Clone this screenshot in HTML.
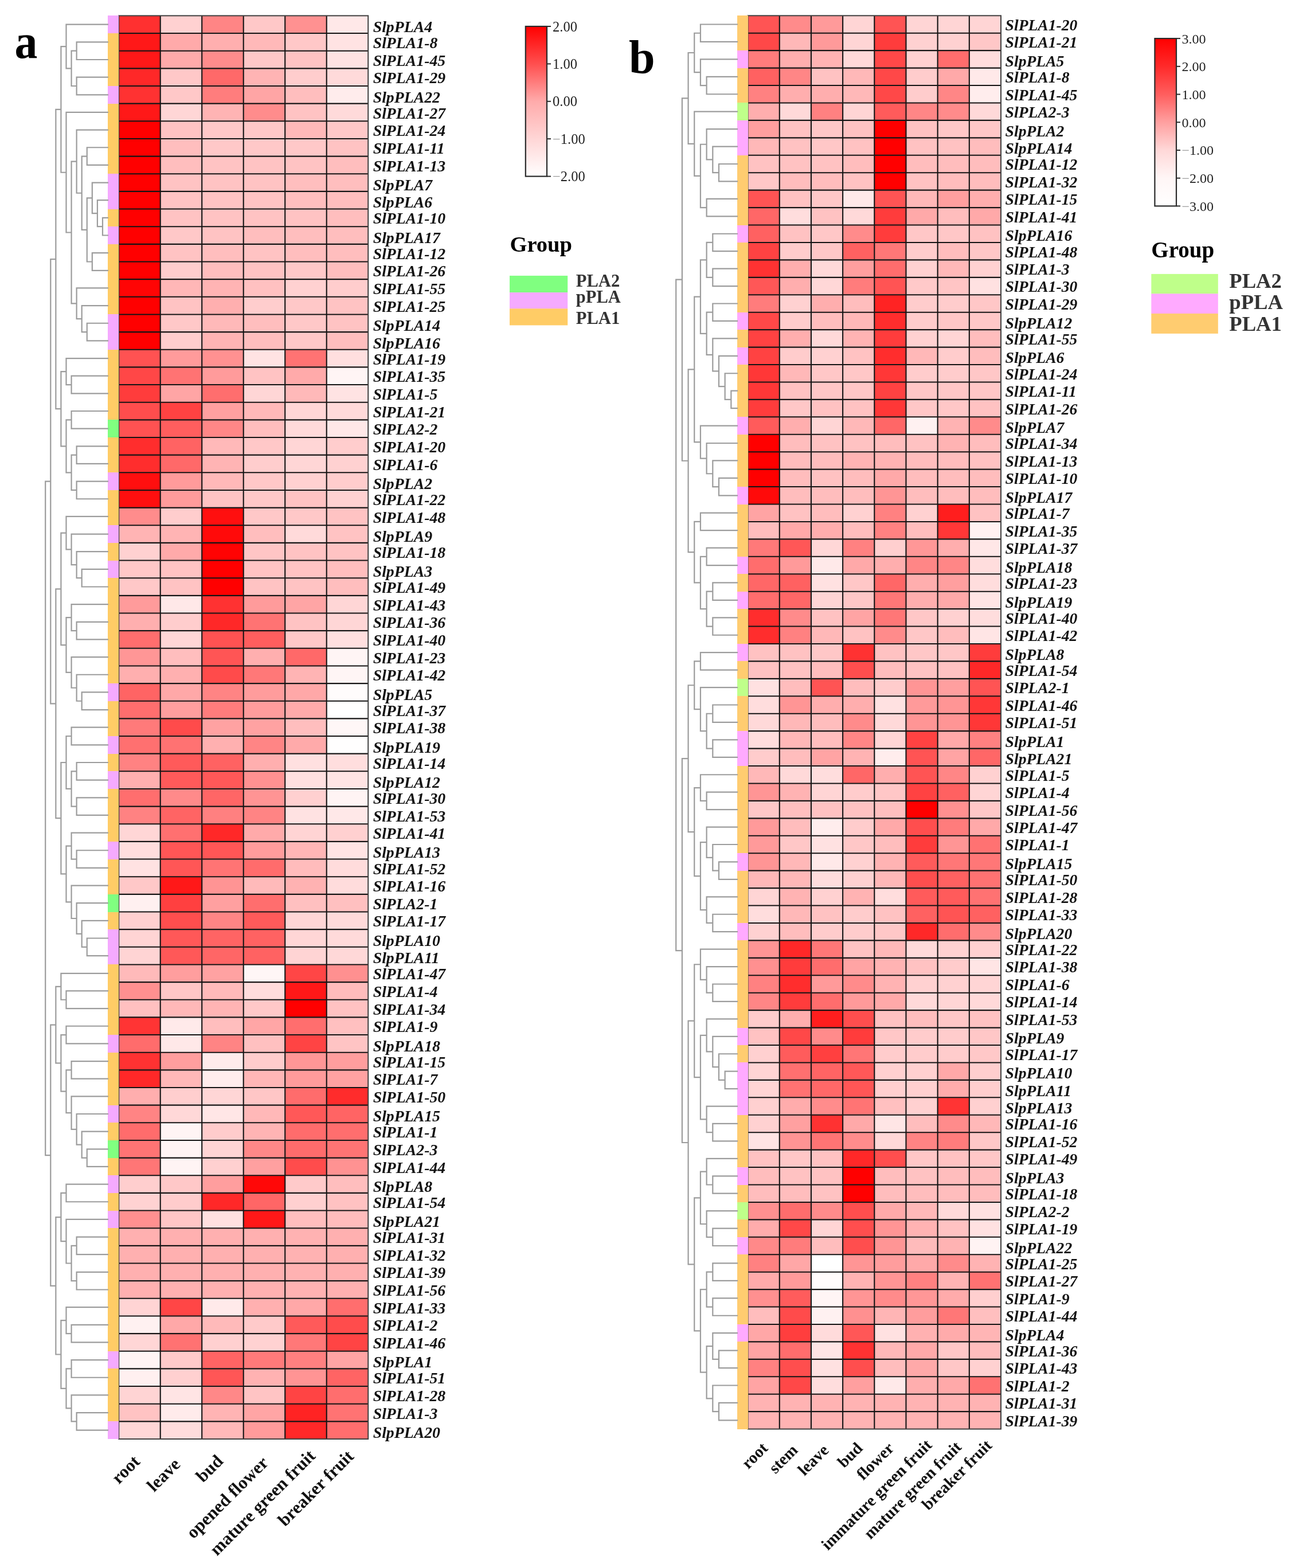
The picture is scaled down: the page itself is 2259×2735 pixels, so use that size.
<!DOCTYPE html>
<html><head><meta charset="utf-8"><title>Heatmap</title>
<style>html,body{margin:0;padding:0;background:#fff;}body{width:2259px;height:2735px;overflow:hidden;}svg{display:block;}</style>
</head><body>
<svg width="2259" height="2735" viewBox="0 0 2259 2735">
<rect width="2259" height="2735" fill="#fff"/>
<defs>
<linearGradient id="ga" x1="0" y1="0" x2="0" y2="1">
<stop offset="0" stop-color="#FF0000"/><stop offset="0.25" stop-color="#FF4F4F"/><stop offset="0.5" stop-color="#FFABAB"/><stop offset="0.75" stop-color="#FFD6D6"/><stop offset="1" stop-color="#FFFFFF"/>
</linearGradient>
<linearGradient id="gb" x1="0" y1="0" x2="0" y2="1">
<stop offset="0" stop-color="#FF0000"/><stop offset="0.1667" stop-color="#FF2A2A"/><stop offset="0.3333" stop-color="#FF5E5E"/><stop offset="0.5" stop-color="#FFA0A0"/><stop offset="0.6667" stop-color="#FFD8D8"/><stop offset="0.8333" stop-color="#FFF6F6"/><stop offset="1" stop-color="#FFFFFF"/>
</linearGradient>
</defs>
<g shape-rendering="crispEdges">
<rect x="207.20" y="27.40" width="72.80" height="30.95" fill="#FF3030"/>
<rect x="279.70" y="27.40" width="72.80" height="30.95" fill="#FFD1D1"/>
<rect x="352.20" y="27.40" width="72.80" height="30.95" fill="#FF8585"/>
<rect x="424.70" y="27.40" width="72.80" height="30.95" fill="#FFC8C8"/>
<rect x="497.20" y="27.40" width="72.80" height="30.95" fill="#FF9191"/>
<rect x="569.70" y="27.40" width="72.80" height="30.95" fill="#FFE8E8"/>
<rect x="207.20" y="58.05" width="72.80" height="30.95" fill="#FF1818"/>
<rect x="279.70" y="58.05" width="72.80" height="30.95" fill="#FFAAAA"/>
<rect x="352.20" y="58.05" width="72.80" height="30.95" fill="#FFAFAF"/>
<rect x="424.70" y="58.05" width="72.80" height="30.95" fill="#FFB9B9"/>
<rect x="497.20" y="58.05" width="72.80" height="30.95" fill="#FFC8C8"/>
<rect x="569.70" y="58.05" width="72.80" height="30.95" fill="#FFE3E3"/>
<rect x="207.20" y="88.70" width="72.80" height="30.95" fill="#FF1818"/>
<rect x="279.70" y="88.70" width="72.80" height="30.95" fill="#FFAAAA"/>
<rect x="352.20" y="88.70" width="72.80" height="30.95" fill="#FF8C8C"/>
<rect x="424.70" y="88.70" width="72.80" height="30.95" fill="#FFC8C8"/>
<rect x="497.20" y="88.70" width="72.80" height="30.95" fill="#FFC3C3"/>
<rect x="569.70" y="88.70" width="72.80" height="30.95" fill="#FFE3E3"/>
<rect x="207.20" y="119.35" width="72.80" height="30.95" fill="#FF2828"/>
<rect x="279.70" y="119.35" width="72.80" height="30.95" fill="#FFC8C8"/>
<rect x="352.20" y="119.35" width="72.80" height="30.95" fill="#FF6969"/>
<rect x="424.70" y="119.35" width="72.80" height="30.95" fill="#FFB4B4"/>
<rect x="497.20" y="119.35" width="72.80" height="30.95" fill="#FFCDCD"/>
<rect x="569.70" y="119.35" width="72.80" height="30.95" fill="#FFDADA"/>
<rect x="207.20" y="150.00" width="72.80" height="30.95" fill="#FF3232"/>
<rect x="279.70" y="150.00" width="72.80" height="30.95" fill="#FFC8C8"/>
<rect x="352.20" y="150.00" width="72.80" height="30.95" fill="#FF7D7D"/>
<rect x="424.70" y="150.00" width="72.80" height="30.95" fill="#FFA5A5"/>
<rect x="497.20" y="150.00" width="72.80" height="30.95" fill="#FFBEBE"/>
<rect x="569.70" y="150.00" width="72.80" height="30.95" fill="#FFECEC"/>
<rect x="207.20" y="180.65" width="72.80" height="30.95" fill="#FF1818"/>
<rect x="279.70" y="180.65" width="72.80" height="30.95" fill="#FFD6D6"/>
<rect x="352.20" y="180.65" width="72.80" height="30.95" fill="#FFB4B4"/>
<rect x="424.70" y="180.65" width="72.80" height="30.95" fill="#FF8C8C"/>
<rect x="497.20" y="180.65" width="72.80" height="30.95" fill="#FFC3C3"/>
<rect x="569.70" y="180.65" width="72.80" height="30.95" fill="#FFDADA"/>
<rect x="207.20" y="211.30" width="72.80" height="30.95" fill="#FF0000"/>
<rect x="279.70" y="211.30" width="72.80" height="30.95" fill="#FFC3C3"/>
<rect x="352.20" y="211.30" width="72.80" height="30.95" fill="#FFC8C8"/>
<rect x="424.70" y="211.30" width="72.80" height="30.95" fill="#FFC8C8"/>
<rect x="497.20" y="211.30" width="72.80" height="30.95" fill="#FFB9B9"/>
<rect x="569.70" y="211.30" width="72.80" height="30.95" fill="#FFC8C8"/>
<rect x="207.20" y="241.95" width="72.80" height="30.95" fill="#FF0000"/>
<rect x="279.70" y="241.95" width="72.80" height="30.95" fill="#FFBEBE"/>
<rect x="352.20" y="241.95" width="72.80" height="30.95" fill="#FFC8C8"/>
<rect x="424.70" y="241.95" width="72.80" height="30.95" fill="#FFC8C8"/>
<rect x="497.20" y="241.95" width="72.80" height="30.95" fill="#FFC8C8"/>
<rect x="569.70" y="241.95" width="72.80" height="30.95" fill="#FFC3C3"/>
<rect x="207.20" y="272.60" width="72.80" height="30.95" fill="#FF0000"/>
<rect x="279.70" y="272.60" width="72.80" height="30.95" fill="#FFBEBE"/>
<rect x="352.20" y="272.60" width="72.80" height="30.95" fill="#FFC3C3"/>
<rect x="424.70" y="272.60" width="72.80" height="30.95" fill="#FFC3C3"/>
<rect x="497.20" y="272.60" width="72.80" height="30.95" fill="#FFC3C3"/>
<rect x="569.70" y="272.60" width="72.80" height="30.95" fill="#FFBEBE"/>
<rect x="207.20" y="303.24" width="72.80" height="30.95" fill="#FF0000"/>
<rect x="279.70" y="303.24" width="72.80" height="30.95" fill="#FFC3C3"/>
<rect x="352.20" y="303.24" width="72.80" height="30.95" fill="#FFC3C3"/>
<rect x="424.70" y="303.24" width="72.80" height="30.95" fill="#FFC3C3"/>
<rect x="497.20" y="303.24" width="72.80" height="30.95" fill="#FFBEBE"/>
<rect x="569.70" y="303.24" width="72.80" height="30.95" fill="#FFBEBE"/>
<rect x="207.20" y="333.89" width="72.80" height="30.95" fill="#FF0000"/>
<rect x="279.70" y="333.89" width="72.80" height="30.95" fill="#FFC3C3"/>
<rect x="352.20" y="333.89" width="72.80" height="30.95" fill="#FFC3C3"/>
<rect x="424.70" y="333.89" width="72.80" height="30.95" fill="#FFC3C3"/>
<rect x="497.20" y="333.89" width="72.80" height="30.95" fill="#FFBEBE"/>
<rect x="569.70" y="333.89" width="72.80" height="30.95" fill="#FFBEBE"/>
<rect x="207.20" y="364.54" width="72.80" height="30.95" fill="#FF0000"/>
<rect x="279.70" y="364.54" width="72.80" height="30.95" fill="#FFC3C3"/>
<rect x="352.20" y="364.54" width="72.80" height="30.95" fill="#FFC3C3"/>
<rect x="424.70" y="364.54" width="72.80" height="30.95" fill="#FFC3C3"/>
<rect x="497.20" y="364.54" width="72.80" height="30.95" fill="#FFC3C3"/>
<rect x="569.70" y="364.54" width="72.80" height="30.95" fill="#FFBEBE"/>
<rect x="207.20" y="395.19" width="72.80" height="30.95" fill="#FF0000"/>
<rect x="279.70" y="395.19" width="72.80" height="30.95" fill="#FFC8C8"/>
<rect x="352.20" y="395.19" width="72.80" height="30.95" fill="#FFC3C3"/>
<rect x="424.70" y="395.19" width="72.80" height="30.95" fill="#FFBEBE"/>
<rect x="497.20" y="395.19" width="72.80" height="30.95" fill="#FFBEBE"/>
<rect x="569.70" y="395.19" width="72.80" height="30.95" fill="#FFBEBE"/>
<rect x="207.20" y="425.84" width="72.80" height="30.95" fill="#FF0000"/>
<rect x="279.70" y="425.84" width="72.80" height="30.95" fill="#FFC3C3"/>
<rect x="352.20" y="425.84" width="72.80" height="30.95" fill="#FFBEBE"/>
<rect x="424.70" y="425.84" width="72.80" height="30.95" fill="#FFC3C3"/>
<rect x="497.20" y="425.84" width="72.80" height="30.95" fill="#FFBEBE"/>
<rect x="569.70" y="425.84" width="72.80" height="30.95" fill="#FFBEBE"/>
<rect x="207.20" y="456.49" width="72.80" height="30.95" fill="#FF0000"/>
<rect x="279.70" y="456.49" width="72.80" height="30.95" fill="#FFCDCD"/>
<rect x="352.20" y="456.49" width="72.80" height="30.95" fill="#FFBEBE"/>
<rect x="424.70" y="456.49" width="72.80" height="30.95" fill="#FFC3C3"/>
<rect x="497.20" y="456.49" width="72.80" height="30.95" fill="#FFC8C8"/>
<rect x="569.70" y="456.49" width="72.80" height="30.95" fill="#FFBEBE"/>
<rect x="207.20" y="487.14" width="72.80" height="30.95" fill="#FF0505"/>
<rect x="279.70" y="487.14" width="72.80" height="30.95" fill="#FFB7B7"/>
<rect x="352.20" y="487.14" width="72.80" height="30.95" fill="#FFB4B4"/>
<rect x="424.70" y="487.14" width="72.80" height="30.95" fill="#FFC1C1"/>
<rect x="497.20" y="487.14" width="72.80" height="30.95" fill="#FFD1D1"/>
<rect x="569.70" y="487.14" width="72.80" height="30.95" fill="#FFCDCD"/>
<rect x="207.20" y="517.79" width="72.80" height="30.95" fill="#FF0000"/>
<rect x="279.70" y="517.79" width="72.80" height="30.95" fill="#FFC3C3"/>
<rect x="352.20" y="517.79" width="72.80" height="30.95" fill="#FFAFAF"/>
<rect x="424.70" y="517.79" width="72.80" height="30.95" fill="#FFCDCD"/>
<rect x="497.20" y="517.79" width="72.80" height="30.95" fill="#FFC8C8"/>
<rect x="569.70" y="517.79" width="72.80" height="30.95" fill="#FFC3C3"/>
<rect x="207.20" y="548.44" width="72.80" height="30.95" fill="#FF0000"/>
<rect x="279.70" y="548.44" width="72.80" height="30.95" fill="#FFC8C8"/>
<rect x="352.20" y="548.44" width="72.80" height="30.95" fill="#FFB9B9"/>
<rect x="424.70" y="548.44" width="72.80" height="30.95" fill="#FFBEBE"/>
<rect x="497.20" y="548.44" width="72.80" height="30.95" fill="#FFC8C8"/>
<rect x="569.70" y="548.44" width="72.80" height="30.95" fill="#FFC3C3"/>
<rect x="207.20" y="579.09" width="72.80" height="30.95" fill="#FF0000"/>
<rect x="279.70" y="579.09" width="72.80" height="30.95" fill="#FFCDCD"/>
<rect x="352.20" y="579.09" width="72.80" height="30.95" fill="#FFB4B4"/>
<rect x="424.70" y="579.09" width="72.80" height="30.95" fill="#FFBEBE"/>
<rect x="497.20" y="579.09" width="72.80" height="30.95" fill="#FFC8C8"/>
<rect x="569.70" y="579.09" width="72.80" height="30.95" fill="#FFBEBE"/>
<rect x="207.20" y="609.74" width="72.80" height="30.95" fill="#FF5252"/>
<rect x="279.70" y="609.74" width="72.80" height="30.95" fill="#FF9B9B"/>
<rect x="352.20" y="609.74" width="72.80" height="30.95" fill="#FF9191"/>
<rect x="424.70" y="609.74" width="72.80" height="30.95" fill="#FFE3E3"/>
<rect x="497.20" y="609.74" width="72.80" height="30.95" fill="#FF7373"/>
<rect x="569.70" y="609.74" width="72.80" height="30.95" fill="#FFDFDF"/>
<rect x="207.20" y="640.39" width="72.80" height="30.95" fill="#FF4747"/>
<rect x="279.70" y="640.39" width="72.80" height="30.95" fill="#FF7373"/>
<rect x="352.20" y="640.39" width="72.80" height="30.95" fill="#FF9B9B"/>
<rect x="424.70" y="640.39" width="72.80" height="30.95" fill="#FFC3C3"/>
<rect x="497.20" y="640.39" width="72.80" height="30.95" fill="#FFAAAA"/>
<rect x="569.70" y="640.39" width="72.80" height="30.95" fill="#FFF5F5"/>
<rect x="207.20" y="671.04" width="72.80" height="30.95" fill="#FF3C3C"/>
<rect x="279.70" y="671.04" width="72.80" height="30.95" fill="#FFA5A5"/>
<rect x="352.20" y="671.04" width="72.80" height="30.95" fill="#FF6E6E"/>
<rect x="424.70" y="671.04" width="72.80" height="30.95" fill="#FFD6D6"/>
<rect x="497.20" y="671.04" width="72.80" height="30.95" fill="#FFB9B9"/>
<rect x="569.70" y="671.04" width="72.80" height="30.95" fill="#FFE3E3"/>
<rect x="207.20" y="701.69" width="72.80" height="30.95" fill="#FF4D4D"/>
<rect x="279.70" y="701.69" width="72.80" height="30.95" fill="#FF4242"/>
<rect x="352.20" y="701.69" width="72.80" height="30.95" fill="#FFA0A0"/>
<rect x="424.70" y="701.69" width="72.80" height="30.95" fill="#FFB9B9"/>
<rect x="497.20" y="701.69" width="72.80" height="30.95" fill="#FFD6D6"/>
<rect x="569.70" y="701.69" width="72.80" height="30.95" fill="#FFDADA"/>
<rect x="207.20" y="732.34" width="72.80" height="30.95" fill="#FF5252"/>
<rect x="279.70" y="732.34" width="72.80" height="30.95" fill="#FF5E5E"/>
<rect x="352.20" y="732.34" width="72.80" height="30.95" fill="#FF8787"/>
<rect x="424.70" y="732.34" width="72.80" height="30.95" fill="#FFBEBE"/>
<rect x="497.20" y="732.34" width="72.80" height="30.95" fill="#FFDADA"/>
<rect x="569.70" y="732.34" width="72.80" height="30.95" fill="#FFE8E8"/>
<rect x="207.20" y="762.99" width="72.80" height="30.95" fill="#FF2D2D"/>
<rect x="279.70" y="762.99" width="72.80" height="30.95" fill="#FF6363"/>
<rect x="352.20" y="762.99" width="72.80" height="30.95" fill="#FFB9B9"/>
<rect x="424.70" y="762.99" width="72.80" height="30.95" fill="#FFC8C8"/>
<rect x="497.20" y="762.99" width="72.80" height="30.95" fill="#FFD6D6"/>
<rect x="569.70" y="762.99" width="72.80" height="30.95" fill="#FFCDCD"/>
<rect x="207.20" y="793.63" width="72.80" height="30.95" fill="#FF2D2D"/>
<rect x="279.70" y="793.63" width="72.80" height="30.95" fill="#FF6969"/>
<rect x="352.20" y="793.63" width="72.80" height="30.95" fill="#FFB4B4"/>
<rect x="424.70" y="793.63" width="72.80" height="30.95" fill="#FFCDCD"/>
<rect x="497.20" y="793.63" width="72.80" height="30.95" fill="#FFD6D6"/>
<rect x="569.70" y="793.63" width="72.80" height="30.95" fill="#FFD1D1"/>
<rect x="207.20" y="824.28" width="72.80" height="30.95" fill="#FF0F0F"/>
<rect x="279.70" y="824.28" width="72.80" height="30.95" fill="#FF9B9B"/>
<rect x="352.20" y="824.28" width="72.80" height="30.95" fill="#FFB9B9"/>
<rect x="424.70" y="824.28" width="72.80" height="30.95" fill="#FFC8C8"/>
<rect x="497.20" y="824.28" width="72.80" height="30.95" fill="#FFD1D1"/>
<rect x="569.70" y="824.28" width="72.80" height="30.95" fill="#FFCDCD"/>
<rect x="207.20" y="854.93" width="72.80" height="30.95" fill="#FF0F0F"/>
<rect x="279.70" y="854.93" width="72.80" height="30.95" fill="#FF9B9B"/>
<rect x="352.20" y="854.93" width="72.80" height="30.95" fill="#FFC3C3"/>
<rect x="424.70" y="854.93" width="72.80" height="30.95" fill="#FFC8C8"/>
<rect x="497.20" y="854.93" width="72.80" height="30.95" fill="#FFC3C3"/>
<rect x="569.70" y="854.93" width="72.80" height="30.95" fill="#FFD1D1"/>
<rect x="207.20" y="885.58" width="72.80" height="30.95" fill="#FF8C8C"/>
<rect x="279.70" y="885.58" width="72.80" height="30.95" fill="#FFCDCD"/>
<rect x="352.20" y="885.58" width="72.80" height="30.95" fill="#FF0F0F"/>
<rect x="424.70" y="885.58" width="72.80" height="30.95" fill="#FFC8C8"/>
<rect x="497.20" y="885.58" width="72.80" height="30.95" fill="#FFC8C8"/>
<rect x="569.70" y="885.58" width="72.80" height="30.95" fill="#FFC3C3"/>
<rect x="207.20" y="916.23" width="72.80" height="30.95" fill="#FFB4B4"/>
<rect x="279.70" y="916.23" width="72.80" height="30.95" fill="#FFB4B4"/>
<rect x="352.20" y="916.23" width="72.80" height="30.95" fill="#FF0A0A"/>
<rect x="424.70" y="916.23" width="72.80" height="30.95" fill="#FFBEBE"/>
<rect x="497.20" y="916.23" width="72.80" height="30.95" fill="#FFDADA"/>
<rect x="569.70" y="916.23" width="72.80" height="30.95" fill="#FFC3C3"/>
<rect x="207.20" y="946.88" width="72.80" height="30.95" fill="#FFD1D1"/>
<rect x="279.70" y="946.88" width="72.80" height="30.95" fill="#FFAAAA"/>
<rect x="352.20" y="946.88" width="72.80" height="30.95" fill="#FF0303"/>
<rect x="424.70" y="946.88" width="72.80" height="30.95" fill="#FFC5C5"/>
<rect x="497.20" y="946.88" width="72.80" height="30.95" fill="#FFC3C3"/>
<rect x="569.70" y="946.88" width="72.80" height="30.95" fill="#FFC3C3"/>
<rect x="207.20" y="977.53" width="72.80" height="30.95" fill="#FFC8C8"/>
<rect x="279.70" y="977.53" width="72.80" height="30.95" fill="#FFC3C3"/>
<rect x="352.20" y="977.53" width="72.80" height="30.95" fill="#FF0000"/>
<rect x="424.70" y="977.53" width="72.80" height="30.95" fill="#FFC3C3"/>
<rect x="497.20" y="977.53" width="72.80" height="30.95" fill="#FFC3C3"/>
<rect x="569.70" y="977.53" width="72.80" height="30.95" fill="#FFBEBE"/>
<rect x="207.20" y="1008.18" width="72.80" height="30.95" fill="#FFC8C8"/>
<rect x="279.70" y="1008.18" width="72.80" height="30.95" fill="#FFC3C3"/>
<rect x="352.20" y="1008.18" width="72.80" height="30.95" fill="#FF0000"/>
<rect x="424.70" y="1008.18" width="72.80" height="30.95" fill="#FFC3C3"/>
<rect x="497.20" y="1008.18" width="72.80" height="30.95" fill="#FFC3C3"/>
<rect x="569.70" y="1008.18" width="72.80" height="30.95" fill="#FFBEBE"/>
<rect x="207.20" y="1038.83" width="72.80" height="30.95" fill="#FF9B9B"/>
<rect x="279.70" y="1038.83" width="72.80" height="30.95" fill="#FFE8E8"/>
<rect x="352.20" y="1038.83" width="72.80" height="30.95" fill="#FF3232"/>
<rect x="424.70" y="1038.83" width="72.80" height="30.95" fill="#FF9B9B"/>
<rect x="497.20" y="1038.83" width="72.80" height="30.95" fill="#FFA5A5"/>
<rect x="569.70" y="1038.83" width="72.80" height="30.95" fill="#FFD6D6"/>
<rect x="207.20" y="1069.48" width="72.80" height="30.95" fill="#FFAFAF"/>
<rect x="279.70" y="1069.48" width="72.80" height="30.95" fill="#FFCDCD"/>
<rect x="352.20" y="1069.48" width="72.80" height="30.95" fill="#FF2828"/>
<rect x="424.70" y="1069.48" width="72.80" height="30.95" fill="#FF7373"/>
<rect x="497.20" y="1069.48" width="72.80" height="30.95" fill="#FFC3C3"/>
<rect x="569.70" y="1069.48" width="72.80" height="30.95" fill="#FFD6D6"/>
<rect x="207.20" y="1100.13" width="72.80" height="30.95" fill="#FF6E6E"/>
<rect x="279.70" y="1100.13" width="72.80" height="30.95" fill="#FFD6D6"/>
<rect x="352.20" y="1100.13" width="72.80" height="30.95" fill="#FF5252"/>
<rect x="424.70" y="1100.13" width="72.80" height="30.95" fill="#FF5E5E"/>
<rect x="497.20" y="1100.13" width="72.80" height="30.95" fill="#FFC8C8"/>
<rect x="569.70" y="1100.13" width="72.80" height="30.95" fill="#FFDFDF"/>
<rect x="207.20" y="1130.78" width="72.80" height="30.95" fill="#FF9696"/>
<rect x="279.70" y="1130.78" width="72.80" height="30.95" fill="#FFBEBE"/>
<rect x="352.20" y="1130.78" width="72.80" height="30.95" fill="#FF5555"/>
<rect x="424.70" y="1130.78" width="72.80" height="30.95" fill="#FFAFAF"/>
<rect x="497.20" y="1130.78" width="72.80" height="30.95" fill="#FF6969"/>
<rect x="569.70" y="1130.78" width="72.80" height="30.95" fill="#FFF5F5"/>
<rect x="207.20" y="1161.43" width="72.80" height="30.95" fill="#FFAFAF"/>
<rect x="279.70" y="1161.43" width="72.80" height="30.95" fill="#FFB0B0"/>
<rect x="352.20" y="1161.43" width="72.80" height="30.95" fill="#FF4B4B"/>
<rect x="424.70" y="1161.43" width="72.80" height="30.95" fill="#FF7878"/>
<rect x="497.20" y="1161.43" width="72.80" height="30.95" fill="#FFB4B4"/>
<rect x="569.70" y="1161.43" width="72.80" height="30.95" fill="#FFF5F5"/>
<rect x="207.20" y="1192.08" width="72.80" height="30.95" fill="#FF6464"/>
<rect x="279.70" y="1192.08" width="72.80" height="30.95" fill="#FFA8A8"/>
<rect x="352.20" y="1192.08" width="72.80" height="30.95" fill="#FF8484"/>
<rect x="424.70" y="1192.08" width="72.80" height="30.95" fill="#FF9C9C"/>
<rect x="497.20" y="1192.08" width="72.80" height="30.95" fill="#FFA8A8"/>
<rect x="569.70" y="1192.08" width="72.80" height="30.95" fill="#FFFCFC"/>
<rect x="207.20" y="1222.73" width="72.80" height="30.95" fill="#FF6E6E"/>
<rect x="279.70" y="1222.73" width="72.80" height="30.95" fill="#FF9E9E"/>
<rect x="352.20" y="1222.73" width="72.80" height="30.95" fill="#FF7C7C"/>
<rect x="424.70" y="1222.73" width="72.80" height="30.95" fill="#FF9C9C"/>
<rect x="497.20" y="1222.73" width="72.80" height="30.95" fill="#FFAAAA"/>
<rect x="569.70" y="1222.73" width="72.80" height="30.95" fill="#FFFFFF"/>
<rect x="207.20" y="1253.38" width="72.80" height="30.95" fill="#FF7A7A"/>
<rect x="279.70" y="1253.38" width="72.80" height="30.95" fill="#FF4B4B"/>
<rect x="352.20" y="1253.38" width="72.80" height="30.95" fill="#FFA2A2"/>
<rect x="424.70" y="1253.38" width="72.80" height="30.95" fill="#FFA2A2"/>
<rect x="497.20" y="1253.38" width="72.80" height="30.95" fill="#FFBEBE"/>
<rect x="569.70" y="1253.38" width="72.80" height="30.95" fill="#FFF7F7"/>
<rect x="207.20" y="1284.02" width="72.80" height="30.95" fill="#FF7070"/>
<rect x="279.70" y="1284.02" width="72.80" height="30.95" fill="#FF7272"/>
<rect x="352.20" y="1284.02" width="72.80" height="30.95" fill="#FFB0B0"/>
<rect x="424.70" y="1284.02" width="72.80" height="30.95" fill="#FF8585"/>
<rect x="497.20" y="1284.02" width="72.80" height="30.95" fill="#FFAAAA"/>
<rect x="569.70" y="1284.02" width="72.80" height="30.95" fill="#FFFEFE"/>
<rect x="207.20" y="1314.67" width="72.80" height="30.95" fill="#FF8282"/>
<rect x="279.70" y="1314.67" width="72.80" height="30.95" fill="#FF5A5A"/>
<rect x="352.20" y="1314.67" width="72.80" height="30.95" fill="#FF6262"/>
<rect x="424.70" y="1314.67" width="72.80" height="30.95" fill="#FFAFAF"/>
<rect x="497.20" y="1314.67" width="72.80" height="30.95" fill="#FFE0E0"/>
<rect x="569.70" y="1314.67" width="72.80" height="30.95" fill="#FFDEDE"/>
<rect x="207.20" y="1345.32" width="72.80" height="30.95" fill="#FFAFAF"/>
<rect x="279.70" y="1345.32" width="72.80" height="30.95" fill="#FF5A5A"/>
<rect x="352.20" y="1345.32" width="72.80" height="30.95" fill="#FF5858"/>
<rect x="424.70" y="1345.32" width="72.80" height="30.95" fill="#FF9191"/>
<rect x="497.20" y="1345.32" width="72.80" height="30.95" fill="#FFE0E0"/>
<rect x="569.70" y="1345.32" width="72.80" height="30.95" fill="#FFE4E4"/>
<rect x="207.20" y="1375.97" width="72.80" height="30.95" fill="#FF6E6E"/>
<rect x="279.70" y="1375.97" width="72.80" height="30.95" fill="#FF8A8A"/>
<rect x="352.20" y="1375.97" width="72.80" height="30.95" fill="#FF6666"/>
<rect x="424.70" y="1375.97" width="72.80" height="30.95" fill="#FF9494"/>
<rect x="497.20" y="1375.97" width="72.80" height="30.95" fill="#FFD0D0"/>
<rect x="569.70" y="1375.97" width="72.80" height="30.95" fill="#FFF4F4"/>
<rect x="207.20" y="1406.62" width="72.80" height="30.95" fill="#FF8282"/>
<rect x="279.70" y="1406.62" width="72.80" height="30.95" fill="#FF6464"/>
<rect x="352.20" y="1406.62" width="72.80" height="30.95" fill="#FF8080"/>
<rect x="424.70" y="1406.62" width="72.80" height="30.95" fill="#FF8484"/>
<rect x="497.20" y="1406.62" width="72.80" height="30.95" fill="#FFE2E2"/>
<rect x="569.70" y="1406.62" width="72.80" height="30.95" fill="#FFE8E8"/>
<rect x="207.20" y="1437.27" width="72.80" height="30.95" fill="#FFD6D6"/>
<rect x="279.70" y="1437.27" width="72.80" height="30.95" fill="#FF7070"/>
<rect x="352.20" y="1437.27" width="72.80" height="30.95" fill="#FF2828"/>
<rect x="424.70" y="1437.27" width="72.80" height="30.95" fill="#FFAAAA"/>
<rect x="497.20" y="1437.27" width="72.80" height="30.95" fill="#FFD4D4"/>
<rect x="569.70" y="1437.27" width="72.80" height="30.95" fill="#FFD0D0"/>
<rect x="207.20" y="1467.92" width="72.80" height="30.95" fill="#FFDEDE"/>
<rect x="279.70" y="1467.92" width="72.80" height="30.95" fill="#FF5656"/>
<rect x="352.20" y="1467.92" width="72.80" height="30.95" fill="#FF5656"/>
<rect x="424.70" y="1467.92" width="72.80" height="30.95" fill="#FF9C9C"/>
<rect x="497.20" y="1467.92" width="72.80" height="30.95" fill="#FFB6B6"/>
<rect x="569.70" y="1467.92" width="72.80" height="30.95" fill="#FFE4E4"/>
<rect x="207.20" y="1498.57" width="72.80" height="30.95" fill="#FFE2E2"/>
<rect x="279.70" y="1498.57" width="72.80" height="30.95" fill="#FF5656"/>
<rect x="352.20" y="1498.57" width="72.80" height="30.95" fill="#FF7474"/>
<rect x="424.70" y="1498.57" width="72.80" height="30.95" fill="#FF6C6C"/>
<rect x="497.20" y="1498.57" width="72.80" height="30.95" fill="#FFBCBC"/>
<rect x="569.70" y="1498.57" width="72.80" height="30.95" fill="#FFDCDC"/>
<rect x="207.20" y="1529.22" width="72.80" height="30.95" fill="#FFC8C8"/>
<rect x="279.70" y="1529.22" width="72.80" height="30.95" fill="#FF1818"/>
<rect x="352.20" y="1529.22" width="72.80" height="30.95" fill="#FF9494"/>
<rect x="424.70" y="1529.22" width="72.80" height="30.95" fill="#FFBABA"/>
<rect x="497.20" y="1529.22" width="72.80" height="30.95" fill="#FFB2B2"/>
<rect x="569.70" y="1529.22" width="72.80" height="30.95" fill="#FFDCDC"/>
<rect x="207.20" y="1559.87" width="72.80" height="30.95" fill="#FFF0F0"/>
<rect x="279.70" y="1559.87" width="72.80" height="30.95" fill="#FF4040"/>
<rect x="352.20" y="1559.87" width="72.80" height="30.95" fill="#FFA0A0"/>
<rect x="424.70" y="1559.87" width="72.80" height="30.95" fill="#FF6E6E"/>
<rect x="497.20" y="1559.87" width="72.80" height="30.95" fill="#FFC0C0"/>
<rect x="569.70" y="1559.87" width="72.80" height="30.95" fill="#FFC0C0"/>
<rect x="207.20" y="1590.52" width="72.80" height="30.95" fill="#FFD0D0"/>
<rect x="279.70" y="1590.52" width="72.80" height="30.95" fill="#FF4E4E"/>
<rect x="352.20" y="1590.52" width="72.80" height="30.95" fill="#FF8585"/>
<rect x="424.70" y="1590.52" width="72.80" height="30.95" fill="#FF5A5A"/>
<rect x="497.20" y="1590.52" width="72.80" height="30.95" fill="#FFD6D6"/>
<rect x="569.70" y="1590.52" width="72.80" height="30.95" fill="#FFDADA"/>
<rect x="207.20" y="1621.17" width="72.80" height="30.95" fill="#FFD4D4"/>
<rect x="279.70" y="1621.17" width="72.80" height="30.95" fill="#FF5858"/>
<rect x="352.20" y="1621.17" width="72.80" height="30.95" fill="#FF6464"/>
<rect x="424.70" y="1621.17" width="72.80" height="30.95" fill="#FF6262"/>
<rect x="497.20" y="1621.17" width="72.80" height="30.95" fill="#FFD6D6"/>
<rect x="569.70" y="1621.17" width="72.80" height="30.95" fill="#FFDADA"/>
<rect x="207.20" y="1651.82" width="72.80" height="30.95" fill="#FFD4D4"/>
<rect x="279.70" y="1651.82" width="72.80" height="30.95" fill="#FF5858"/>
<rect x="352.20" y="1651.82" width="72.80" height="30.95" fill="#FF6666"/>
<rect x="424.70" y="1651.82" width="72.80" height="30.95" fill="#FF6262"/>
<rect x="497.20" y="1651.82" width="72.80" height="30.95" fill="#FFD4D4"/>
<rect x="569.70" y="1651.82" width="72.80" height="30.95" fill="#FFD8D8"/>
<rect x="207.20" y="1682.47" width="72.80" height="30.95" fill="#FFBABA"/>
<rect x="279.70" y="1682.47" width="72.80" height="30.95" fill="#FF9E9E"/>
<rect x="352.20" y="1682.47" width="72.80" height="30.95" fill="#FFA2A2"/>
<rect x="424.70" y="1682.47" width="72.80" height="30.95" fill="#FFF6F6"/>
<rect x="497.20" y="1682.47" width="72.80" height="30.95" fill="#FF4646"/>
<rect x="569.70" y="1682.47" width="72.80" height="30.95" fill="#FF9090"/>
<rect x="207.20" y="1713.12" width="72.80" height="30.95" fill="#FF9090"/>
<rect x="279.70" y="1713.12" width="72.80" height="30.95" fill="#FFC6C6"/>
<rect x="352.20" y="1713.12" width="72.80" height="30.95" fill="#FFBABA"/>
<rect x="424.70" y="1713.12" width="72.80" height="30.95" fill="#FFDCDC"/>
<rect x="497.20" y="1713.12" width="72.80" height="30.95" fill="#FF1818"/>
<rect x="569.70" y="1713.12" width="72.80" height="30.95" fill="#FFBCBC"/>
<rect x="207.20" y="1743.77" width="72.80" height="30.95" fill="#FFC0C0"/>
<rect x="279.70" y="1743.77" width="72.80" height="30.95" fill="#FFB8B8"/>
<rect x="352.20" y="1743.77" width="72.80" height="30.95" fill="#FFB4B4"/>
<rect x="424.70" y="1743.77" width="72.80" height="30.95" fill="#FFC8C8"/>
<rect x="497.20" y="1743.77" width="72.80" height="30.95" fill="#FF0000"/>
<rect x="569.70" y="1743.77" width="72.80" height="30.95" fill="#FFC2C2"/>
<rect x="207.20" y="1774.41" width="72.80" height="30.95" fill="#FF3434"/>
<rect x="279.70" y="1774.41" width="72.80" height="30.95" fill="#FFEAEA"/>
<rect x="352.20" y="1774.41" width="72.80" height="30.95" fill="#FFBEBE"/>
<rect x="424.70" y="1774.41" width="72.80" height="30.95" fill="#FFA6A6"/>
<rect x="497.20" y="1774.41" width="72.80" height="30.95" fill="#FF6E6E"/>
<rect x="569.70" y="1774.41" width="72.80" height="30.95" fill="#FFC0C0"/>
<rect x="207.20" y="1805.06" width="72.80" height="30.95" fill="#FF6C6C"/>
<rect x="279.70" y="1805.06" width="72.80" height="30.95" fill="#FFE8E8"/>
<rect x="352.20" y="1805.06" width="72.80" height="30.95" fill="#FF8484"/>
<rect x="424.70" y="1805.06" width="72.80" height="30.95" fill="#FFC0C0"/>
<rect x="497.20" y="1805.06" width="72.80" height="30.95" fill="#FF4444"/>
<rect x="569.70" y="1805.06" width="72.80" height="30.95" fill="#FFC4C4"/>
<rect x="207.20" y="1835.71" width="72.80" height="30.95" fill="#FF3232"/>
<rect x="279.70" y="1835.71" width="72.80" height="30.95" fill="#FF9E9E"/>
<rect x="352.20" y="1835.71" width="72.80" height="30.95" fill="#FFECEC"/>
<rect x="424.70" y="1835.71" width="72.80" height="30.95" fill="#FFCCCC"/>
<rect x="497.20" y="1835.71" width="72.80" height="30.95" fill="#FF9696"/>
<rect x="569.70" y="1835.71" width="72.80" height="30.95" fill="#FF9E9E"/>
<rect x="207.20" y="1866.36" width="72.80" height="30.95" fill="#FF2828"/>
<rect x="279.70" y="1866.36" width="72.80" height="30.95" fill="#FFB8B8"/>
<rect x="352.20" y="1866.36" width="72.80" height="30.95" fill="#FFECEC"/>
<rect x="424.70" y="1866.36" width="72.80" height="30.95" fill="#FFB6B6"/>
<rect x="497.20" y="1866.36" width="72.80" height="30.95" fill="#FF9B9B"/>
<rect x="569.70" y="1866.36" width="72.80" height="30.95" fill="#FFA2A2"/>
<rect x="207.20" y="1897.01" width="72.80" height="30.95" fill="#FFAEAE"/>
<rect x="279.70" y="1897.01" width="72.80" height="30.95" fill="#FFCECE"/>
<rect x="352.20" y="1897.01" width="72.80" height="30.95" fill="#FFD6D6"/>
<rect x="424.70" y="1897.01" width="72.80" height="30.95" fill="#FFC6C6"/>
<rect x="497.20" y="1897.01" width="72.80" height="30.95" fill="#FF6C6C"/>
<rect x="569.70" y="1897.01" width="72.80" height="30.95" fill="#FF2C2C"/>
<rect x="207.20" y="1927.66" width="72.80" height="30.95" fill="#FF8484"/>
<rect x="279.70" y="1927.66" width="72.80" height="30.95" fill="#FFD8D8"/>
<rect x="352.20" y="1927.66" width="72.80" height="30.95" fill="#FFE6E6"/>
<rect x="424.70" y="1927.66" width="72.80" height="30.95" fill="#FFB8B8"/>
<rect x="497.20" y="1927.66" width="72.80" height="30.95" fill="#FF5858"/>
<rect x="569.70" y="1927.66" width="72.80" height="30.95" fill="#FF6464"/>
<rect x="207.20" y="1958.31" width="72.80" height="30.95" fill="#FF6C6C"/>
<rect x="279.70" y="1958.31" width="72.80" height="30.95" fill="#FFF4F4"/>
<rect x="352.20" y="1958.31" width="72.80" height="30.95" fill="#FFCCCC"/>
<rect x="424.70" y="1958.31" width="72.80" height="30.95" fill="#FFB4B4"/>
<rect x="497.20" y="1958.31" width="72.80" height="30.95" fill="#FF6C6C"/>
<rect x="569.70" y="1958.31" width="72.80" height="30.95" fill="#FF6E6E"/>
<rect x="207.20" y="1988.96" width="72.80" height="30.95" fill="#FF7474"/>
<rect x="279.70" y="1988.96" width="72.80" height="30.95" fill="#FFF4F4"/>
<rect x="352.20" y="1988.96" width="72.80" height="30.95" fill="#FFD4D4"/>
<rect x="424.70" y="1988.96" width="72.80" height="30.95" fill="#FF8888"/>
<rect x="497.20" y="1988.96" width="72.80" height="30.95" fill="#FF6C6C"/>
<rect x="569.70" y="1988.96" width="72.80" height="30.95" fill="#FF7474"/>
<rect x="207.20" y="2019.61" width="72.80" height="30.95" fill="#FF7676"/>
<rect x="279.70" y="2019.61" width="72.80" height="30.95" fill="#FFF4F4"/>
<rect x="352.20" y="2019.61" width="72.80" height="30.95" fill="#FFD0D0"/>
<rect x="424.70" y="2019.61" width="72.80" height="30.95" fill="#FFA0A0"/>
<rect x="497.20" y="2019.61" width="72.80" height="30.95" fill="#FF4C4C"/>
<rect x="569.70" y="2019.61" width="72.80" height="30.95" fill="#FF9292"/>
<rect x="207.20" y="2050.26" width="72.80" height="30.95" fill="#FFCECE"/>
<rect x="279.70" y="2050.26" width="72.80" height="30.95" fill="#FFC8C8"/>
<rect x="352.20" y="2050.26" width="72.80" height="30.95" fill="#FF9E9E"/>
<rect x="424.70" y="2050.26" width="72.80" height="30.95" fill="#FF0808"/>
<rect x="497.20" y="2050.26" width="72.80" height="30.95" fill="#FFCACA"/>
<rect x="569.70" y="2050.26" width="72.80" height="30.95" fill="#FFBEBE"/>
<rect x="207.20" y="2080.91" width="72.80" height="30.95" fill="#FFD2D2"/>
<rect x="279.70" y="2080.91" width="72.80" height="30.95" fill="#FFCCCC"/>
<rect x="352.20" y="2080.91" width="72.80" height="30.95" fill="#FF2828"/>
<rect x="424.70" y="2080.91" width="72.80" height="30.95" fill="#FF6666"/>
<rect x="497.20" y="2080.91" width="72.80" height="30.95" fill="#FFD0D0"/>
<rect x="569.70" y="2080.91" width="72.80" height="30.95" fill="#FFC2C2"/>
<rect x="207.20" y="2111.56" width="72.80" height="30.95" fill="#FF9090"/>
<rect x="279.70" y="2111.56" width="72.80" height="30.95" fill="#FFC6C6"/>
<rect x="352.20" y="2111.56" width="72.80" height="30.95" fill="#FFE0E0"/>
<rect x="424.70" y="2111.56" width="72.80" height="30.95" fill="#FF1818"/>
<rect x="497.20" y="2111.56" width="72.80" height="30.95" fill="#FFBEBE"/>
<rect x="569.70" y="2111.56" width="72.80" height="30.95" fill="#FFBCBC"/>
<rect x="207.20" y="2142.21" width="72.80" height="30.95" fill="#FFB0B0"/>
<rect x="279.70" y="2142.21" width="72.80" height="30.95" fill="#FFB0B0"/>
<rect x="352.20" y="2142.21" width="72.80" height="30.95" fill="#FFB0B0"/>
<rect x="424.70" y="2142.21" width="72.80" height="30.95" fill="#FFB0B0"/>
<rect x="497.20" y="2142.21" width="72.80" height="30.95" fill="#FFB2B2"/>
<rect x="569.70" y="2142.21" width="72.80" height="30.95" fill="#FFB0B0"/>
<rect x="207.20" y="2172.86" width="72.80" height="30.95" fill="#FFB0B0"/>
<rect x="279.70" y="2172.86" width="72.80" height="30.95" fill="#FFB0B0"/>
<rect x="352.20" y="2172.86" width="72.80" height="30.95" fill="#FFB0B0"/>
<rect x="424.70" y="2172.86" width="72.80" height="30.95" fill="#FFB0B0"/>
<rect x="497.20" y="2172.86" width="72.80" height="30.95" fill="#FFB2B2"/>
<rect x="569.70" y="2172.86" width="72.80" height="30.95" fill="#FFB0B0"/>
<rect x="207.20" y="2203.51" width="72.80" height="30.95" fill="#FFB0B0"/>
<rect x="279.70" y="2203.51" width="72.80" height="30.95" fill="#FFB0B0"/>
<rect x="352.20" y="2203.51" width="72.80" height="30.95" fill="#FFB0B0"/>
<rect x="424.70" y="2203.51" width="72.80" height="30.95" fill="#FFB0B0"/>
<rect x="497.20" y="2203.51" width="72.80" height="30.95" fill="#FFB2B2"/>
<rect x="569.70" y="2203.51" width="72.80" height="30.95" fill="#FFB0B0"/>
<rect x="207.20" y="2234.16" width="72.80" height="30.95" fill="#FFB0B0"/>
<rect x="279.70" y="2234.16" width="72.80" height="30.95" fill="#FFB0B0"/>
<rect x="352.20" y="2234.16" width="72.80" height="30.95" fill="#FFB0B0"/>
<rect x="424.70" y="2234.16" width="72.80" height="30.95" fill="#FFB0B0"/>
<rect x="497.20" y="2234.16" width="72.80" height="30.95" fill="#FFB2B2"/>
<rect x="569.70" y="2234.16" width="72.80" height="30.95" fill="#FFB0B0"/>
<rect x="207.20" y="2264.80" width="72.80" height="30.95" fill="#FFD4D4"/>
<rect x="279.70" y="2264.80" width="72.80" height="30.95" fill="#FF4646"/>
<rect x="352.20" y="2264.80" width="72.80" height="30.95" fill="#FFEAEA"/>
<rect x="424.70" y="2264.80" width="72.80" height="30.95" fill="#FFB0B0"/>
<rect x="497.20" y="2264.80" width="72.80" height="30.95" fill="#FFA8A8"/>
<rect x="569.70" y="2264.80" width="72.80" height="30.95" fill="#FF6E6E"/>
<rect x="207.20" y="2295.45" width="72.80" height="30.95" fill="#FFF1F1"/>
<rect x="279.70" y="2295.45" width="72.80" height="30.95" fill="#FFA8A8"/>
<rect x="352.20" y="2295.45" width="72.80" height="30.95" fill="#FFBABA"/>
<rect x="424.70" y="2295.45" width="72.80" height="30.95" fill="#FFCACA"/>
<rect x="497.20" y="2295.45" width="72.80" height="30.95" fill="#FF5A5A"/>
<rect x="569.70" y="2295.45" width="72.80" height="30.95" fill="#FF4C4C"/>
<rect x="207.20" y="2326.10" width="72.80" height="30.95" fill="#FFD6D6"/>
<rect x="279.70" y="2326.10" width="72.80" height="30.95" fill="#FF7272"/>
<rect x="352.20" y="2326.10" width="72.80" height="30.95" fill="#FFD0D0"/>
<rect x="424.70" y="2326.10" width="72.80" height="30.95" fill="#FFD2D2"/>
<rect x="497.20" y="2326.10" width="72.80" height="30.95" fill="#FF7878"/>
<rect x="569.70" y="2326.10" width="72.80" height="30.95" fill="#FF4444"/>
<rect x="207.20" y="2356.75" width="72.80" height="30.95" fill="#FFF4F4"/>
<rect x="279.70" y="2356.75" width="72.80" height="30.95" fill="#FFCACA"/>
<rect x="352.20" y="2356.75" width="72.80" height="30.95" fill="#FF6464"/>
<rect x="424.70" y="2356.75" width="72.80" height="30.95" fill="#FF7A7A"/>
<rect x="497.20" y="2356.75" width="72.80" height="30.95" fill="#FF8080"/>
<rect x="569.70" y="2356.75" width="72.80" height="30.95" fill="#FFA4A4"/>
<rect x="207.20" y="2387.40" width="72.80" height="30.95" fill="#FFF0F0"/>
<rect x="279.70" y="2387.40" width="72.80" height="30.95" fill="#FFD0D0"/>
<rect x="352.20" y="2387.40" width="72.80" height="30.95" fill="#FF5656"/>
<rect x="424.70" y="2387.40" width="72.80" height="30.95" fill="#FFB2B2"/>
<rect x="497.20" y="2387.40" width="72.80" height="30.95" fill="#FF9494"/>
<rect x="569.70" y="2387.40" width="72.80" height="30.95" fill="#FF6464"/>
<rect x="207.20" y="2418.05" width="72.80" height="30.95" fill="#FFD4D4"/>
<rect x="279.70" y="2418.05" width="72.80" height="30.95" fill="#FFE4E4"/>
<rect x="352.20" y="2418.05" width="72.80" height="30.95" fill="#FF8888"/>
<rect x="424.70" y="2418.05" width="72.80" height="30.95" fill="#FFC4C4"/>
<rect x="497.20" y="2418.05" width="72.80" height="30.95" fill="#FF4444"/>
<rect x="569.70" y="2418.05" width="72.80" height="30.95" fill="#FF6E6E"/>
<rect x="207.20" y="2448.70" width="72.80" height="30.95" fill="#FFC3C3"/>
<rect x="279.70" y="2448.70" width="72.80" height="30.95" fill="#FFEBEB"/>
<rect x="352.20" y="2448.70" width="72.80" height="30.95" fill="#FFB4B4"/>
<rect x="424.70" y="2448.70" width="72.80" height="30.95" fill="#FFA5A5"/>
<rect x="497.20" y="2448.70" width="72.80" height="30.95" fill="#FF2323"/>
<rect x="569.70" y="2448.70" width="72.80" height="30.95" fill="#FF7373"/>
<rect x="207.20" y="2479.35" width="72.80" height="30.95" fill="#FFD7D7"/>
<rect x="279.70" y="2479.35" width="72.80" height="30.95" fill="#FFDCDC"/>
<rect x="352.20" y="2479.35" width="72.80" height="30.95" fill="#FFB9B9"/>
<rect x="424.70" y="2479.35" width="72.80" height="30.95" fill="#FF9B9B"/>
<rect x="497.20" y="2479.35" width="72.80" height="30.95" fill="#FF2828"/>
<rect x="569.70" y="2479.35" width="72.80" height="30.95" fill="#FF6E6E"/>
</g>
<g stroke="#141414" stroke-width="2.1" fill="none">
<line x1="207.20" y1="58.05" x2="642.20" y2="58.05"/>
<line x1="207.20" y1="88.70" x2="642.20" y2="88.70"/>
<line x1="207.20" y1="119.35" x2="642.20" y2="119.35"/>
<line x1="207.20" y1="150.00" x2="642.20" y2="150.00"/>
<line x1="207.20" y1="180.65" x2="642.20" y2="180.65"/>
<line x1="207.20" y1="211.30" x2="642.20" y2="211.30"/>
<line x1="207.20" y1="241.95" x2="642.20" y2="241.95"/>
<line x1="207.20" y1="272.60" x2="642.20" y2="272.60"/>
<line x1="207.20" y1="303.24" x2="642.20" y2="303.24"/>
<line x1="207.20" y1="333.89" x2="642.20" y2="333.89"/>
<line x1="207.20" y1="364.54" x2="642.20" y2="364.54"/>
<line x1="207.20" y1="395.19" x2="642.20" y2="395.19"/>
<line x1="207.20" y1="425.84" x2="642.20" y2="425.84"/>
<line x1="207.20" y1="456.49" x2="642.20" y2="456.49"/>
<line x1="207.20" y1="487.14" x2="642.20" y2="487.14"/>
<line x1="207.20" y1="517.79" x2="642.20" y2="517.79"/>
<line x1="207.20" y1="548.44" x2="642.20" y2="548.44"/>
<line x1="207.20" y1="579.09" x2="642.20" y2="579.09"/>
<line x1="207.20" y1="609.74" x2="642.20" y2="609.74"/>
<line x1="207.20" y1="640.39" x2="642.20" y2="640.39"/>
<line x1="207.20" y1="671.04" x2="642.20" y2="671.04"/>
<line x1="207.20" y1="701.69" x2="642.20" y2="701.69"/>
<line x1="207.20" y1="732.34" x2="642.20" y2="732.34"/>
<line x1="207.20" y1="762.99" x2="642.20" y2="762.99"/>
<line x1="207.20" y1="793.63" x2="642.20" y2="793.63"/>
<line x1="207.20" y1="824.28" x2="642.20" y2="824.28"/>
<line x1="207.20" y1="854.93" x2="642.20" y2="854.93"/>
<line x1="207.20" y1="885.58" x2="642.20" y2="885.58"/>
<line x1="207.20" y1="916.23" x2="642.20" y2="916.23"/>
<line x1="207.20" y1="946.88" x2="642.20" y2="946.88"/>
<line x1="207.20" y1="977.53" x2="642.20" y2="977.53"/>
<line x1="207.20" y1="1008.18" x2="642.20" y2="1008.18"/>
<line x1="207.20" y1="1038.83" x2="642.20" y2="1038.83"/>
<line x1="207.20" y1="1069.48" x2="642.20" y2="1069.48"/>
<line x1="207.20" y1="1100.13" x2="642.20" y2="1100.13"/>
<line x1="207.20" y1="1130.78" x2="642.20" y2="1130.78"/>
<line x1="207.20" y1="1161.43" x2="642.20" y2="1161.43"/>
<line x1="207.20" y1="1192.08" x2="642.20" y2="1192.08"/>
<line x1="207.20" y1="1222.73" x2="642.20" y2="1222.73"/>
<line x1="207.20" y1="1253.38" x2="642.20" y2="1253.38"/>
<line x1="207.20" y1="1284.02" x2="642.20" y2="1284.02"/>
<line x1="207.20" y1="1314.67" x2="642.20" y2="1314.67"/>
<line x1="207.20" y1="1345.32" x2="642.20" y2="1345.32"/>
<line x1="207.20" y1="1375.97" x2="642.20" y2="1375.97"/>
<line x1="207.20" y1="1406.62" x2="642.20" y2="1406.62"/>
<line x1="207.20" y1="1437.27" x2="642.20" y2="1437.27"/>
<line x1="207.20" y1="1467.92" x2="642.20" y2="1467.92"/>
<line x1="207.20" y1="1498.57" x2="642.20" y2="1498.57"/>
<line x1="207.20" y1="1529.22" x2="642.20" y2="1529.22"/>
<line x1="207.20" y1="1559.87" x2="642.20" y2="1559.87"/>
<line x1="207.20" y1="1590.52" x2="642.20" y2="1590.52"/>
<line x1="207.20" y1="1621.17" x2="642.20" y2="1621.17"/>
<line x1="207.20" y1="1651.82" x2="642.20" y2="1651.82"/>
<line x1="207.20" y1="1682.47" x2="642.20" y2="1682.47"/>
<line x1="207.20" y1="1713.12" x2="642.20" y2="1713.12"/>
<line x1="207.20" y1="1743.77" x2="642.20" y2="1743.77"/>
<line x1="207.20" y1="1774.41" x2="642.20" y2="1774.41"/>
<line x1="207.20" y1="1805.06" x2="642.20" y2="1805.06"/>
<line x1="207.20" y1="1835.71" x2="642.20" y2="1835.71"/>
<line x1="207.20" y1="1866.36" x2="642.20" y2="1866.36"/>
<line x1="207.20" y1="1897.01" x2="642.20" y2="1897.01"/>
<line x1="207.20" y1="1927.66" x2="642.20" y2="1927.66"/>
<line x1="207.20" y1="1958.31" x2="642.20" y2="1958.31"/>
<line x1="207.20" y1="1988.96" x2="642.20" y2="1988.96"/>
<line x1="207.20" y1="2019.61" x2="642.20" y2="2019.61"/>
<line x1="207.20" y1="2050.26" x2="642.20" y2="2050.26"/>
<line x1="207.20" y1="2080.91" x2="642.20" y2="2080.91"/>
<line x1="207.20" y1="2111.56" x2="642.20" y2="2111.56"/>
<line x1="207.20" y1="2142.21" x2="642.20" y2="2142.21"/>
<line x1="207.20" y1="2172.86" x2="642.20" y2="2172.86"/>
<line x1="207.20" y1="2203.51" x2="642.20" y2="2203.51"/>
<line x1="207.20" y1="2234.16" x2="642.20" y2="2234.16"/>
<line x1="207.20" y1="2264.80" x2="642.20" y2="2264.80"/>
<line x1="207.20" y1="2295.45" x2="642.20" y2="2295.45"/>
<line x1="207.20" y1="2326.10" x2="642.20" y2="2326.10"/>
<line x1="207.20" y1="2356.75" x2="642.20" y2="2356.75"/>
<line x1="207.20" y1="2387.40" x2="642.20" y2="2387.40"/>
<line x1="207.20" y1="2418.05" x2="642.20" y2="2418.05"/>
<line x1="207.20" y1="2448.70" x2="642.20" y2="2448.70"/>
<line x1="207.20" y1="2479.35" x2="642.20" y2="2479.35"/>
<line x1="279.70" y1="27.40" x2="279.70" y2="2510.00"/>
<line x1="352.20" y1="27.40" x2="352.20" y2="2510.00"/>
<line x1="424.70" y1="27.40" x2="424.70" y2="2510.00"/>
<line x1="497.20" y1="27.40" x2="497.20" y2="2510.00"/>
<line x1="569.70" y1="27.40" x2="569.70" y2="2510.00"/>
</g>
<rect x="207.20" y="27.40" width="435.00" height="2482.60" fill="none" stroke="#404040" stroke-width="2"/>
<g shape-rendering="crispEdges">
<rect x="188.00" y="27.40" width="19.20" height="31.05" fill="#F5AAFF"/>
<rect x="188.00" y="58.05" width="19.20" height="31.05" fill="#FFCC66"/>
<rect x="188.00" y="88.70" width="19.20" height="31.05" fill="#FFCC66"/>
<rect x="188.00" y="119.35" width="19.20" height="31.05" fill="#FFCC66"/>
<rect x="188.00" y="150.00" width="19.20" height="31.05" fill="#F5AAFF"/>
<rect x="188.00" y="180.65" width="19.20" height="31.05" fill="#FFCC66"/>
<rect x="188.00" y="211.30" width="19.20" height="31.05" fill="#FFCC66"/>
<rect x="188.00" y="241.95" width="19.20" height="31.05" fill="#FFCC66"/>
<rect x="188.00" y="272.60" width="19.20" height="31.05" fill="#FFCC66"/>
<rect x="188.00" y="303.24" width="19.20" height="31.05" fill="#F5AAFF"/>
<rect x="188.00" y="333.89" width="19.20" height="31.05" fill="#F5AAFF"/>
<rect x="188.00" y="364.54" width="19.20" height="31.05" fill="#FFCC66"/>
<rect x="188.00" y="395.19" width="19.20" height="31.05" fill="#F5AAFF"/>
<rect x="188.00" y="425.84" width="19.20" height="31.05" fill="#FFCC66"/>
<rect x="188.00" y="456.49" width="19.20" height="31.05" fill="#FFCC66"/>
<rect x="188.00" y="487.14" width="19.20" height="31.05" fill="#FFCC66"/>
<rect x="188.00" y="517.79" width="19.20" height="31.05" fill="#FFCC66"/>
<rect x="188.00" y="548.44" width="19.20" height="31.05" fill="#F5AAFF"/>
<rect x="188.00" y="579.09" width="19.20" height="31.05" fill="#F5AAFF"/>
<rect x="188.00" y="609.74" width="19.20" height="31.05" fill="#FFCC66"/>
<rect x="188.00" y="640.39" width="19.20" height="31.05" fill="#FFCC66"/>
<rect x="188.00" y="671.04" width="19.20" height="31.05" fill="#FFCC66"/>
<rect x="188.00" y="701.69" width="19.20" height="31.05" fill="#FFCC66"/>
<rect x="188.00" y="732.34" width="19.20" height="31.05" fill="#80FF80"/>
<rect x="188.00" y="762.99" width="19.20" height="31.05" fill="#FFCC66"/>
<rect x="188.00" y="793.63" width="19.20" height="31.05" fill="#FFCC66"/>
<rect x="188.00" y="824.28" width="19.20" height="31.05" fill="#F5AAFF"/>
<rect x="188.00" y="854.93" width="19.20" height="31.05" fill="#FFCC66"/>
<rect x="188.00" y="885.58" width="19.20" height="31.05" fill="#FFCC66"/>
<rect x="188.00" y="916.23" width="19.20" height="31.05" fill="#F5AAFF"/>
<rect x="188.00" y="946.88" width="19.20" height="31.05" fill="#FFCC66"/>
<rect x="188.00" y="977.53" width="19.20" height="31.05" fill="#F5AAFF"/>
<rect x="188.00" y="1008.18" width="19.20" height="31.05" fill="#FFCC66"/>
<rect x="188.00" y="1038.83" width="19.20" height="31.05" fill="#FFCC66"/>
<rect x="188.00" y="1069.48" width="19.20" height="31.05" fill="#FFCC66"/>
<rect x="188.00" y="1100.13" width="19.20" height="31.05" fill="#FFCC66"/>
<rect x="188.00" y="1130.78" width="19.20" height="31.05" fill="#FFCC66"/>
<rect x="188.00" y="1161.43" width="19.20" height="31.05" fill="#FFCC66"/>
<rect x="188.00" y="1192.08" width="19.20" height="31.05" fill="#F5AAFF"/>
<rect x="188.00" y="1222.73" width="19.20" height="31.05" fill="#FFCC66"/>
<rect x="188.00" y="1253.38" width="19.20" height="31.05" fill="#FFCC66"/>
<rect x="188.00" y="1284.02" width="19.20" height="31.05" fill="#F5AAFF"/>
<rect x="188.00" y="1314.67" width="19.20" height="31.05" fill="#FFCC66"/>
<rect x="188.00" y="1345.32" width="19.20" height="31.05" fill="#F5AAFF"/>
<rect x="188.00" y="1375.97" width="19.20" height="31.05" fill="#FFCC66"/>
<rect x="188.00" y="1406.62" width="19.20" height="31.05" fill="#FFCC66"/>
<rect x="188.00" y="1437.27" width="19.20" height="31.05" fill="#FFCC66"/>
<rect x="188.00" y="1467.92" width="19.20" height="31.05" fill="#F5AAFF"/>
<rect x="188.00" y="1498.57" width="19.20" height="31.05" fill="#FFCC66"/>
<rect x="188.00" y="1529.22" width="19.20" height="31.05" fill="#FFCC66"/>
<rect x="188.00" y="1559.87" width="19.20" height="31.05" fill="#80FF80"/>
<rect x="188.00" y="1590.52" width="19.20" height="31.05" fill="#FFCC66"/>
<rect x="188.00" y="1621.17" width="19.20" height="31.05" fill="#F5AAFF"/>
<rect x="188.00" y="1651.82" width="19.20" height="31.05" fill="#F5AAFF"/>
<rect x="188.00" y="1682.47" width="19.20" height="31.05" fill="#FFCC66"/>
<rect x="188.00" y="1713.12" width="19.20" height="31.05" fill="#FFCC66"/>
<rect x="188.00" y="1743.77" width="19.20" height="31.05" fill="#FFCC66"/>
<rect x="188.00" y="1774.41" width="19.20" height="31.05" fill="#FFCC66"/>
<rect x="188.00" y="1805.06" width="19.20" height="31.05" fill="#F5AAFF"/>
<rect x="188.00" y="1835.71" width="19.20" height="31.05" fill="#FFCC66"/>
<rect x="188.00" y="1866.36" width="19.20" height="31.05" fill="#FFCC66"/>
<rect x="188.00" y="1897.01" width="19.20" height="31.05" fill="#FFCC66"/>
<rect x="188.00" y="1927.66" width="19.20" height="31.05" fill="#F5AAFF"/>
<rect x="188.00" y="1958.31" width="19.20" height="31.05" fill="#FFCC66"/>
<rect x="188.00" y="1988.96" width="19.20" height="31.05" fill="#80FF80"/>
<rect x="188.00" y="2019.61" width="19.20" height="31.05" fill="#FFCC66"/>
<rect x="188.00" y="2050.26" width="19.20" height="31.05" fill="#F5AAFF"/>
<rect x="188.00" y="2080.91" width="19.20" height="31.05" fill="#FFCC66"/>
<rect x="188.00" y="2111.56" width="19.20" height="31.05" fill="#F5AAFF"/>
<rect x="188.00" y="2142.21" width="19.20" height="31.05" fill="#FFCC66"/>
<rect x="188.00" y="2172.86" width="19.20" height="31.05" fill="#FFCC66"/>
<rect x="188.00" y="2203.51" width="19.20" height="31.05" fill="#FFCC66"/>
<rect x="188.00" y="2234.16" width="19.20" height="31.05" fill="#FFCC66"/>
<rect x="188.00" y="2264.80" width="19.20" height="31.05" fill="#FFCC66"/>
<rect x="188.00" y="2295.45" width="19.20" height="31.05" fill="#FFCC66"/>
<rect x="188.00" y="2326.10" width="19.20" height="31.05" fill="#FFCC66"/>
<rect x="188.00" y="2356.75" width="19.20" height="31.05" fill="#F5AAFF"/>
<rect x="188.00" y="2387.40" width="19.20" height="31.05" fill="#FFCC66"/>
<rect x="188.00" y="2418.05" width="19.20" height="31.05" fill="#FFCC66"/>
<rect x="188.00" y="2448.70" width="19.20" height="31.05" fill="#FFCC66"/>
<rect x="188.00" y="2479.35" width="19.20" height="31.05" fill="#F5AAFF"/>
</g>
<path d="M115.48 42.72H188.00M133.62 73.37H188.00M133.62 104.02H188.00M133.62 73.37V104.02M124.55 88.70H133.62M133.62 134.67H188.00M133.62 165.32H188.00M133.62 134.67V165.32M124.55 150.00H133.62M124.55 88.70V150.00M115.48 119.35H124.55M115.48 42.72V119.35M106.41 81.04H115.48M115.48 195.97H188.00M133.62 226.62H188.00M151.76 257.27H188.00M151.76 287.92H188.00M151.76 257.27V287.92M142.69 272.60H151.76M160.83 318.57H188.00M169.90 349.22H188.00M178.97 379.87H188.00M178.97 410.52H188.00M178.97 379.87V410.52M169.90 395.19H178.97M169.90 349.22V395.19M160.83 372.21H169.90M160.83 318.57V372.21M151.76 345.39H160.83M160.83 441.17H188.00M160.83 471.82H188.00M160.83 441.17V471.82M151.76 456.49H160.83M151.76 345.39V456.49M142.69 400.94H151.76M142.69 272.60V400.94M133.62 336.77H142.69M133.62 226.62V336.77M124.55 281.69H133.62M133.62 502.47H188.00M142.69 533.11H188.00M151.76 563.76H188.00M151.76 594.41H188.00M151.76 563.76V594.41M142.69 579.09H151.76M142.69 533.11V579.09M133.62 556.10H142.69M133.62 502.47V556.10M124.55 529.28H133.62M124.55 281.69V529.28M115.48 405.49H124.55M115.48 195.97V405.49M106.41 300.73H115.48M106.41 81.04V300.73M97.34 190.88H106.41M115.48 625.06H188.00M124.55 655.71H188.00M124.55 686.36H188.00M124.55 655.71V686.36M115.48 671.04H124.55M115.48 625.06V671.04M106.41 648.05H115.48M124.55 717.01H188.00M124.55 747.66H188.00M124.55 717.01V747.66M115.48 732.34H124.55M133.62 778.31H188.00M133.62 808.96H188.00M133.62 778.31V808.96M124.55 793.63H133.62M133.62 839.61H188.00M133.62 870.26H188.00M133.62 839.61V870.26M124.55 854.93H133.62M124.55 793.63V854.93M115.48 824.28H124.55M115.48 732.34V824.28M106.41 778.31H115.48M106.41 648.05V778.31M97.34 713.18H106.41M97.34 190.88V713.18M88.27 452.03H97.34M115.48 900.91H188.00M124.55 931.56H188.00M133.62 962.21H188.00M142.69 992.86H188.00M142.69 1023.50H188.00M142.69 992.86V1023.50M133.62 1008.18H142.69M133.62 962.21V1008.18M124.55 985.19H133.62M124.55 931.56V985.19M115.48 958.37H124.55M115.48 900.91V958.37M106.41 929.64H115.48M124.55 1054.15H188.00M133.62 1084.80H188.00M133.62 1115.45H188.00M133.62 1084.80V1115.45M124.55 1100.13H133.62M124.55 1054.15V1100.13M115.48 1077.14H124.55M124.55 1146.10H188.00M133.62 1176.75H188.00M142.69 1207.40H188.00M142.69 1238.05H188.00M142.69 1207.40V1238.05M133.62 1222.73H142.69M133.62 1176.75V1222.73M124.55 1199.74H133.62M124.55 1146.10V1199.74M115.48 1172.92H124.55M115.48 1077.14V1172.92M106.41 1125.03H115.48M106.41 929.64V1125.03M97.34 1027.34H106.41M124.55 1268.70H188.00M124.55 1299.35H188.00M124.55 1268.70V1299.35M115.48 1284.02H124.55M133.62 1330.00H188.00M133.62 1360.65H188.00M133.62 1330.00V1360.65M124.55 1345.32H133.62M133.62 1391.30H188.00M133.62 1421.95H188.00M133.62 1391.30V1421.95M124.55 1406.62H133.62M124.55 1345.32V1406.62M115.48 1375.97H124.55M115.48 1284.02V1375.97M106.41 1330.00H115.48M124.55 1452.60H188.00M133.62 1483.25H188.00M133.62 1513.90H188.00M133.62 1483.25V1513.90M124.55 1498.57H133.62M124.55 1452.60V1498.57M115.48 1475.58H124.55M124.55 1544.54H188.00M133.62 1575.19H188.00M142.69 1605.84H188.00M151.76 1636.49H188.00M151.76 1667.14H188.00M151.76 1636.49V1667.14M142.69 1651.82H151.76M142.69 1605.84V1651.82M133.62 1628.83H142.69M133.62 1575.19V1628.83M124.55 1602.01H133.62M124.55 1544.54V1602.01M115.48 1573.28H124.55M115.48 1475.58V1573.28M106.41 1524.43H115.48M106.41 1330.00V1524.43M97.34 1427.21H106.41M97.34 1027.34V1427.21M88.27 1227.28H97.34M88.27 452.03V1227.28M79.20 839.65H88.27M106.41 1697.79H188.00M115.48 1728.44H188.00M115.48 1759.09H188.00M115.48 1728.44V1759.09M106.41 1743.77H115.48M106.41 1697.79V1743.77M97.34 1720.78H106.41M115.48 1789.74H188.00M115.48 1820.39H188.00M115.48 1789.74V1820.39M106.41 1805.06H115.48M124.55 1851.04H188.00M124.55 1881.69H188.00M124.55 1851.04V1881.69M115.48 1866.36H124.55M124.55 1912.34H188.00M133.62 1942.99H188.00M142.69 1973.64H188.00M151.76 2004.29H188.00M151.76 2034.93H188.00M151.76 2004.29V2034.93M142.69 2019.61H151.76M142.69 1973.64V2019.61M133.62 1996.62H142.69M133.62 1942.99V1996.62M124.55 1969.80H133.62M124.55 1912.34V1969.80M115.48 1941.07H124.55M115.48 1866.36V1941.07M106.41 1903.72H115.48M106.41 1805.06V1903.72M97.34 1854.39H106.41M97.34 1720.78V1854.39M88.27 1787.58H97.34M115.48 2065.58H188.00M115.48 2096.23H188.00M115.48 2065.58V2096.23M106.41 2080.91H115.48M115.48 2126.88H188.00M133.62 2157.53H188.00M133.62 2188.18H188.00M133.62 2157.53V2188.18M124.55 2172.86H133.62M133.62 2218.83H188.00M133.62 2249.48H188.00M133.62 2218.83V2249.48M124.55 2234.16H133.62M124.55 2172.86V2234.16M115.48 2203.51H124.55M115.48 2126.88V2203.51M106.41 2165.19H115.48M106.41 2080.91V2165.19M97.34 2123.05H106.41M115.48 2280.13H188.00M124.55 2310.78H188.00M124.55 2341.43H188.00M124.55 2310.78V2341.43M115.48 2326.10H124.55M115.48 2280.13V2326.10M106.41 2303.12H115.48M124.55 2372.08H188.00M124.55 2402.73H188.00M124.55 2372.08V2402.73M115.48 2387.40H124.55M124.55 2433.38H188.00M133.62 2464.03H188.00M133.62 2494.68H188.00M133.62 2464.03V2494.68M124.55 2479.35H133.62M124.55 2433.38V2479.35M115.48 2456.36H124.55M115.48 2387.40V2456.36M106.41 2421.88H115.48M106.41 2303.12V2421.88M97.34 2362.50H106.41M97.34 2123.05V2362.50M88.27 2242.78H97.34M88.27 1787.58V2242.78M79.20 2015.18H88.27M79.20 839.65V2015.18" stroke="#9C9C9C" stroke-width="2.2" fill="none" stroke-linecap="square"/>
<g font-family="Liberation Serif, serif" font-weight="bold" font-style="italic" font-size="27.5" fill="#111">
<text transform="translate(650.70 55.92) scale(1.010 1)">SlpPLA4</text>
<text transform="translate(650.70 83.97) scale(1.010 1)">SlPLA1-8</text>
<text transform="translate(650.70 114.62) scale(1.010 1)">SlPLA1-45</text>
<text transform="translate(650.70 145.27) scale(1.010 1)">SlPLA1-29</text>
<text transform="translate(650.70 178.52) scale(1.010 1)">SlpPLA22</text>
<text transform="translate(650.70 206.57) scale(1.010 1)">SlPLA1-27</text>
<text transform="translate(650.70 237.22) scale(1.010 1)">SlPLA1-24</text>
<text transform="translate(650.70 267.87) scale(1.010 1)">SlPLA1-11</text>
<text transform="translate(650.70 298.52) scale(1.010 1)">SlPLA1-13</text>
<text transform="translate(650.70 331.77) scale(1.010 1)">SlpPLA7</text>
<text transform="translate(650.70 362.42) scale(1.010 1)">SlpPLA6</text>
<text transform="translate(650.70 390.47) scale(1.010 1)">SlPLA1-10</text>
<text transform="translate(650.70 423.72) scale(1.010 1)">SlpPLA17</text>
<text transform="translate(650.70 451.77) scale(1.010 1)">SlPLA1-12</text>
<text transform="translate(650.70 482.42) scale(1.010 1)">SlPLA1-26</text>
<text transform="translate(650.70 513.07) scale(1.010 1)">SlPLA1-55</text>
<text transform="translate(650.70 543.71) scale(1.010 1)">SlPLA1-25</text>
<text transform="translate(650.70 576.96) scale(1.010 1)">SlpPLA14</text>
<text transform="translate(650.70 607.61) scale(1.010 1)">SlpPLA16</text>
<text transform="translate(650.70 635.66) scale(1.010 1)">SlPLA1-19</text>
<text transform="translate(650.70 666.31) scale(1.010 1)">SlPLA1-35</text>
<text transform="translate(650.70 696.96) scale(1.010 1)">SlPLA1-5</text>
<text transform="translate(650.70 727.61) scale(1.010 1)">SlPLA1-21</text>
<text transform="translate(650.70 758.26) scale(1.010 1)">SlPLA2-2</text>
<text transform="translate(650.70 788.91) scale(1.010 1)">SlPLA1-20</text>
<text transform="translate(650.70 819.56) scale(1.010 1)">SlPLA1-6</text>
<text transform="translate(650.70 852.81) scale(1.010 1)">SlpPLA2</text>
<text transform="translate(650.70 880.86) scale(1.010 1)">SlPLA1-22</text>
<text transform="translate(650.70 911.51) scale(1.010 1)">SlPLA1-48</text>
<text transform="translate(650.70 944.76) scale(1.010 1)">SlpPLA9</text>
<text transform="translate(650.70 972.81) scale(1.010 1)">SlPLA1-18</text>
<text transform="translate(650.70 1006.06) scale(1.010 1)">SlpPLA3</text>
<text transform="translate(650.70 1034.10) scale(1.010 1)">SlPLA1-49</text>
<text transform="translate(650.70 1064.75) scale(1.010 1)">SlPLA1-43</text>
<text transform="translate(650.70 1095.40) scale(1.010 1)">SlPLA1-36</text>
<text transform="translate(650.70 1126.05) scale(1.010 1)">SlPLA1-40</text>
<text transform="translate(650.70 1156.70) scale(1.010 1)">SlPLA1-23</text>
<text transform="translate(650.70 1187.35) scale(1.010 1)">SlPLA1-42</text>
<text transform="translate(650.70 1220.60) scale(1.010 1)">SlpPLA5</text>
<text transform="translate(650.70 1248.65) scale(1.010 1)">SlPLA1-37</text>
<text transform="translate(650.70 1279.30) scale(1.010 1)">SlPLA1-38</text>
<text transform="translate(650.70 1312.55) scale(1.010 1)">SlpPLA19</text>
<text transform="translate(650.70 1340.60) scale(1.010 1)">SlPLA1-14</text>
<text transform="translate(650.70 1373.85) scale(1.010 1)">SlpPLA12</text>
<text transform="translate(650.70 1401.90) scale(1.010 1)">SlPLA1-30</text>
<text transform="translate(650.70 1432.55) scale(1.010 1)">SlPLA1-53</text>
<text transform="translate(650.70 1463.20) scale(1.010 1)">SlPLA1-41</text>
<text transform="translate(650.70 1496.45) scale(1.010 1)">SlpPLA13</text>
<text transform="translate(650.70 1524.50) scale(1.010 1)">SlPLA1-52</text>
<text transform="translate(650.70 1555.14) scale(1.010 1)">SlPLA1-16</text>
<text transform="translate(650.70 1585.79) scale(1.010 1)">SlPLA2-1</text>
<text transform="translate(650.70 1616.44) scale(1.010 1)">SlPLA1-17</text>
<text transform="translate(650.70 1649.69) scale(1.010 1)">SlpPLA10</text>
<text transform="translate(650.70 1680.34) scale(1.010 1)">SlpPLA11</text>
<text transform="translate(650.70 1708.39) scale(1.010 1)">SlPLA1-47</text>
<text transform="translate(650.70 1739.04) scale(1.010 1)">SlPLA1-4</text>
<text transform="translate(650.70 1769.69) scale(1.010 1)">SlPLA1-34</text>
<text transform="translate(650.70 1800.34) scale(1.010 1)">SlPLA1-9</text>
<text transform="translate(650.70 1833.59) scale(1.010 1)">SlpPLA18</text>
<text transform="translate(650.70 1861.64) scale(1.010 1)">SlPLA1-15</text>
<text transform="translate(650.70 1892.29) scale(1.010 1)">SlPLA1-7</text>
<text transform="translate(650.70 1922.94) scale(1.010 1)">SlPLA1-50</text>
<text transform="translate(650.70 1956.19) scale(1.010 1)">SlpPLA15</text>
<text transform="translate(650.70 1984.24) scale(1.010 1)">SlPLA1-1</text>
<text transform="translate(650.70 2014.89) scale(1.010 1)">SlPLA2-3</text>
<text transform="translate(650.70 2045.53) scale(1.010 1)">SlPLA1-44</text>
<text transform="translate(650.70 2078.78) scale(1.010 1)">SlpPLA8</text>
<text transform="translate(650.70 2106.83) scale(1.010 1)">SlPLA1-54</text>
<text transform="translate(650.70 2140.08) scale(1.010 1)">SlpPLA21</text>
<text transform="translate(650.70 2168.13) scale(1.010 1)">SlPLA1-31</text>
<text transform="translate(650.70 2198.78) scale(1.010 1)">SlPLA1-32</text>
<text transform="translate(650.70 2229.43) scale(1.010 1)">SlPLA1-39</text>
<text transform="translate(650.70 2260.08) scale(1.010 1)">SlPLA1-56</text>
<text transform="translate(650.70 2290.73) scale(1.010 1)">SlPLA1-33</text>
<text transform="translate(650.70 2321.38) scale(1.010 1)">SlPLA1-2</text>
<text transform="translate(650.70 2352.03) scale(1.010 1)">SlPLA1-46</text>
<text transform="translate(650.70 2385.28) scale(1.010 1)">SlpPLA1</text>
<text transform="translate(650.70 2413.33) scale(1.010 1)">SlPLA1-51</text>
<text transform="translate(650.70 2443.98) scale(1.010 1)">SlPLA1-28</text>
<text transform="translate(650.70 2474.63) scale(1.010 1)">SlPLA1-3</text>
<text transform="translate(650.70 2507.88) scale(1.010 1)">SlpPLA20</text>
</g>
<g font-family="Liberation Serif, serif" font-weight="bold" font-size="31.0" fill="#111" text-anchor="end">
<text transform="translate(245.85 2551.10) rotate(-45)">root</text>
<text transform="translate(316.35 2555.90) rotate(-45)">leave</text>
<text transform="translate(390.95 2550.40) rotate(-45)">bud</text>
<text transform="translate(469.65 2553.20) rotate(-45)">opened flower</text>
<text transform="translate(551.75 2541.40) rotate(-45)">mature green fruit</text>
<text transform="translate(618.75 2542.10) rotate(-45)">breaker fruit</text>
</g>
<g shape-rendering="crispEdges">
<rect x="1304.60" y="27.30" width="55.48" height="30.74" fill="#FF5454"/>
<rect x="1359.77" y="27.30" width="55.48" height="30.74" fill="#FF8B8B"/>
<rect x="1414.95" y="27.30" width="55.48" height="30.74" fill="#FF9A9A"/>
<rect x="1470.12" y="27.30" width="55.48" height="30.74" fill="#FFD5D5"/>
<rect x="1525.30" y="27.30" width="55.48" height="30.74" fill="#FF5454"/>
<rect x="1580.47" y="27.30" width="55.48" height="30.74" fill="#FFD5D5"/>
<rect x="1635.65" y="27.30" width="55.48" height="30.74" fill="#FFD5D5"/>
<rect x="1690.83" y="27.30" width="55.48" height="30.74" fill="#FFD5D5"/>
<rect x="1304.60" y="57.74" width="55.48" height="30.74" fill="#FF4848"/>
<rect x="1359.77" y="57.74" width="55.48" height="30.74" fill="#FFB8B8"/>
<rect x="1414.95" y="57.74" width="55.48" height="30.74" fill="#FF9A9A"/>
<rect x="1470.12" y="57.74" width="55.48" height="30.74" fill="#FFD5D5"/>
<rect x="1525.30" y="57.74" width="55.48" height="30.74" fill="#FF3C3C"/>
<rect x="1580.47" y="57.74" width="55.48" height="30.74" fill="#FFD1D1"/>
<rect x="1635.65" y="57.74" width="55.48" height="30.74" fill="#FFD1D1"/>
<rect x="1690.83" y="57.74" width="55.48" height="30.74" fill="#FFC7C7"/>
<rect x="1304.60" y="88.17" width="55.48" height="30.74" fill="#FF7C7C"/>
<rect x="1359.77" y="88.17" width="55.48" height="30.74" fill="#FFAEAE"/>
<rect x="1414.95" y="88.17" width="55.48" height="30.74" fill="#FFB3B3"/>
<rect x="1470.12" y="88.17" width="55.48" height="30.74" fill="#FFD9D9"/>
<rect x="1525.30" y="88.17" width="55.48" height="30.74" fill="#FF4848"/>
<rect x="1580.47" y="88.17" width="55.48" height="30.74" fill="#FFD1D1"/>
<rect x="1635.65" y="88.17" width="55.48" height="30.74" fill="#FF6D6D"/>
<rect x="1690.83" y="88.17" width="55.48" height="30.74" fill="#FFDDDD"/>
<rect x="1304.60" y="118.61" width="55.48" height="30.74" fill="#FF6161"/>
<rect x="1359.77" y="118.61" width="55.48" height="30.74" fill="#FF8686"/>
<rect x="1414.95" y="118.61" width="55.48" height="30.74" fill="#FFC2C2"/>
<rect x="1470.12" y="118.61" width="55.48" height="30.74" fill="#FFB8B8"/>
<rect x="1525.30" y="118.61" width="55.48" height="30.74" fill="#FF4848"/>
<rect x="1580.47" y="118.61" width="55.48" height="30.74" fill="#FFCCCC"/>
<rect x="1635.65" y="118.61" width="55.48" height="30.74" fill="#FFA9A9"/>
<rect x="1690.83" y="118.61" width="55.48" height="30.74" fill="#FFE9E9"/>
<rect x="1304.60" y="149.04" width="55.48" height="30.74" fill="#FF8181"/>
<rect x="1359.77" y="149.04" width="55.48" height="30.74" fill="#FFAEAE"/>
<rect x="1414.95" y="149.04" width="55.48" height="30.74" fill="#FFAEAE"/>
<rect x="1470.12" y="149.04" width="55.48" height="30.74" fill="#FFB8B8"/>
<rect x="1525.30" y="149.04" width="55.48" height="30.74" fill="#FF4848"/>
<rect x="1580.47" y="149.04" width="55.48" height="30.74" fill="#FFCCCC"/>
<rect x="1635.65" y="149.04" width="55.48" height="30.74" fill="#FF8686"/>
<rect x="1690.83" y="149.04" width="55.48" height="30.74" fill="#FFEDED"/>
<rect x="1304.60" y="179.48" width="55.48" height="30.74" fill="#FFAEAE"/>
<rect x="1359.77" y="179.48" width="55.48" height="30.74" fill="#FFD9D9"/>
<rect x="1414.95" y="179.48" width="55.48" height="30.74" fill="#FF8181"/>
<rect x="1470.12" y="179.48" width="55.48" height="30.74" fill="#FFD5D5"/>
<rect x="1525.30" y="179.48" width="55.48" height="30.74" fill="#FF5B5B"/>
<rect x="1580.47" y="179.48" width="55.48" height="30.74" fill="#FF8686"/>
<rect x="1635.65" y="179.48" width="55.48" height="30.74" fill="#FF8B8B"/>
<rect x="1690.83" y="179.48" width="55.48" height="30.74" fill="#FFD9D9"/>
<rect x="1304.60" y="209.91" width="55.48" height="30.74" fill="#FF9F9F"/>
<rect x="1359.77" y="209.91" width="55.48" height="30.74" fill="#FFC2C2"/>
<rect x="1414.95" y="209.91" width="55.48" height="30.74" fill="#FFC7C7"/>
<rect x="1470.12" y="209.91" width="55.48" height="30.74" fill="#FFC2C2"/>
<rect x="1525.30" y="209.91" width="55.48" height="30.74" fill="#FF0000"/>
<rect x="1580.47" y="209.91" width="55.48" height="30.74" fill="#FFC2C2"/>
<rect x="1635.65" y="209.91" width="55.48" height="30.74" fill="#FFC7C7"/>
<rect x="1690.83" y="209.91" width="55.48" height="30.74" fill="#FFC7C7"/>
<rect x="1304.60" y="240.35" width="55.48" height="30.74" fill="#FFB8B8"/>
<rect x="1359.77" y="240.35" width="55.48" height="30.74" fill="#FFC2C2"/>
<rect x="1414.95" y="240.35" width="55.48" height="30.74" fill="#FFC7C7"/>
<rect x="1470.12" y="240.35" width="55.48" height="30.74" fill="#FFC2C2"/>
<rect x="1525.30" y="240.35" width="55.48" height="30.74" fill="#FF0000"/>
<rect x="1580.47" y="240.35" width="55.48" height="30.74" fill="#FFC2C2"/>
<rect x="1635.65" y="240.35" width="55.48" height="30.74" fill="#FFC2C2"/>
<rect x="1690.83" y="240.35" width="55.48" height="30.74" fill="#FFBDBD"/>
<rect x="1304.60" y="270.79" width="55.48" height="30.74" fill="#FFC2C2"/>
<rect x="1359.77" y="270.79" width="55.48" height="30.74" fill="#FFC2C2"/>
<rect x="1414.95" y="270.79" width="55.48" height="30.74" fill="#FFC2C2"/>
<rect x="1470.12" y="270.79" width="55.48" height="30.74" fill="#FFBDBD"/>
<rect x="1525.30" y="270.79" width="55.48" height="30.74" fill="#FF0000"/>
<rect x="1580.47" y="270.79" width="55.48" height="30.74" fill="#FFBDBD"/>
<rect x="1635.65" y="270.79" width="55.48" height="30.74" fill="#FFBDBD"/>
<rect x="1690.83" y="270.79" width="55.48" height="30.74" fill="#FFBDBD"/>
<rect x="1304.60" y="301.22" width="55.48" height="30.74" fill="#FFC7C7"/>
<rect x="1359.77" y="301.22" width="55.48" height="30.74" fill="#FFBDBD"/>
<rect x="1414.95" y="301.22" width="55.48" height="30.74" fill="#FFBDBD"/>
<rect x="1470.12" y="301.22" width="55.48" height="30.74" fill="#FFC2C2"/>
<rect x="1525.30" y="301.22" width="55.48" height="30.74" fill="#FF0000"/>
<rect x="1580.47" y="301.22" width="55.48" height="30.74" fill="#FFC2C2"/>
<rect x="1635.65" y="301.22" width="55.48" height="30.74" fill="#FFBDBD"/>
<rect x="1690.83" y="301.22" width="55.48" height="30.74" fill="#FFBDBD"/>
<rect x="1304.60" y="331.66" width="55.48" height="30.74" fill="#FF5454"/>
<rect x="1359.77" y="331.66" width="55.48" height="30.74" fill="#FFC2C2"/>
<rect x="1414.95" y="331.66" width="55.48" height="30.74" fill="#FFC7C7"/>
<rect x="1470.12" y="331.66" width="55.48" height="30.74" fill="#FFE9E9"/>
<rect x="1525.30" y="331.66" width="55.48" height="30.74" fill="#FF5454"/>
<rect x="1580.47" y="331.66" width="55.48" height="30.74" fill="#FFB8B8"/>
<rect x="1635.65" y="331.66" width="55.48" height="30.74" fill="#FF9F9F"/>
<rect x="1690.83" y="331.66" width="55.48" height="30.74" fill="#FFAEAE"/>
<rect x="1304.60" y="362.09" width="55.48" height="30.74" fill="#FF6767"/>
<rect x="1359.77" y="362.09" width="55.48" height="30.74" fill="#FFDDDD"/>
<rect x="1414.95" y="362.09" width="55.48" height="30.74" fill="#FFC2C2"/>
<rect x="1470.12" y="362.09" width="55.48" height="30.74" fill="#FFD9D9"/>
<rect x="1525.30" y="362.09" width="55.48" height="30.74" fill="#FF3C3C"/>
<rect x="1580.47" y="362.09" width="55.48" height="30.74" fill="#FFA9A9"/>
<rect x="1635.65" y="362.09" width="55.48" height="30.74" fill="#FFBDBD"/>
<rect x="1690.83" y="362.09" width="55.48" height="30.74" fill="#FFA9A9"/>
<rect x="1304.60" y="392.53" width="55.48" height="30.74" fill="#FF6161"/>
<rect x="1359.77" y="392.53" width="55.48" height="30.74" fill="#FFC2C2"/>
<rect x="1414.95" y="392.53" width="55.48" height="30.74" fill="#FFC7C7"/>
<rect x="1470.12" y="392.53" width="55.48" height="30.74" fill="#FF8B8B"/>
<rect x="1525.30" y="392.53" width="55.48" height="30.74" fill="#FF3C3C"/>
<rect x="1580.47" y="392.53" width="55.48" height="30.74" fill="#FFC7C7"/>
<rect x="1635.65" y="392.53" width="55.48" height="30.74" fill="#FFC7C7"/>
<rect x="1690.83" y="392.53" width="55.48" height="30.74" fill="#FFC2C2"/>
<rect x="1304.60" y="422.97" width="55.48" height="30.74" fill="#FF4242"/>
<rect x="1359.77" y="422.97" width="55.48" height="30.74" fill="#FFCCCC"/>
<rect x="1414.95" y="422.97" width="55.48" height="30.74" fill="#FFC7C7"/>
<rect x="1470.12" y="422.97" width="55.48" height="30.74" fill="#FF6161"/>
<rect x="1525.30" y="422.97" width="55.48" height="30.74" fill="#FF7777"/>
<rect x="1580.47" y="422.97" width="55.48" height="30.74" fill="#FFCCCC"/>
<rect x="1635.65" y="422.97" width="55.48" height="30.74" fill="#FFBDBD"/>
<rect x="1690.83" y="422.97" width="55.48" height="30.74" fill="#FFC7C7"/>
<rect x="1304.60" y="453.40" width="55.48" height="30.74" fill="#FF3232"/>
<rect x="1359.77" y="453.40" width="55.48" height="30.74" fill="#FFAEAE"/>
<rect x="1414.95" y="453.40" width="55.48" height="30.74" fill="#FFD9D9"/>
<rect x="1470.12" y="453.40" width="55.48" height="30.74" fill="#FF9F9F"/>
<rect x="1525.30" y="453.40" width="55.48" height="30.74" fill="#FF6D6D"/>
<rect x="1580.47" y="453.40" width="55.48" height="30.74" fill="#FFD1D1"/>
<rect x="1635.65" y="453.40" width="55.48" height="30.74" fill="#FFB8B8"/>
<rect x="1690.83" y="453.40" width="55.48" height="30.74" fill="#FFD1D1"/>
<rect x="1304.60" y="483.84" width="55.48" height="30.74" fill="#FF5757"/>
<rect x="1359.77" y="483.84" width="55.48" height="30.74" fill="#FFAEAE"/>
<rect x="1414.95" y="483.84" width="55.48" height="30.74" fill="#FFD7D7"/>
<rect x="1470.12" y="483.84" width="55.48" height="30.74" fill="#FF7C7C"/>
<rect x="1525.30" y="483.84" width="55.48" height="30.74" fill="#FF5454"/>
<rect x="1580.47" y="483.84" width="55.48" height="30.74" fill="#FFC9C9"/>
<rect x="1635.65" y="483.84" width="55.48" height="30.74" fill="#FFC5C5"/>
<rect x="1690.83" y="483.84" width="55.48" height="30.74" fill="#FFE1E1"/>
<rect x="1304.60" y="514.27" width="55.48" height="30.74" fill="#FF7C7C"/>
<rect x="1359.77" y="514.27" width="55.48" height="30.74" fill="#FFD1D1"/>
<rect x="1414.95" y="514.27" width="55.48" height="30.74" fill="#FFAEAE"/>
<rect x="1470.12" y="514.27" width="55.48" height="30.74" fill="#FFBDBD"/>
<rect x="1525.30" y="514.27" width="55.48" height="30.74" fill="#FF2323"/>
<rect x="1580.47" y="514.27" width="55.48" height="30.74" fill="#FFCCCC"/>
<rect x="1635.65" y="514.27" width="55.48" height="30.74" fill="#FFCCCC"/>
<rect x="1690.83" y="514.27" width="55.48" height="30.74" fill="#FFC7C7"/>
<rect x="1304.60" y="544.71" width="55.48" height="30.74" fill="#FF4848"/>
<rect x="1359.77" y="544.71" width="55.48" height="30.74" fill="#FFCCCC"/>
<rect x="1414.95" y="544.71" width="55.48" height="30.74" fill="#FFBDBD"/>
<rect x="1470.12" y="544.71" width="55.48" height="30.74" fill="#FFB8B8"/>
<rect x="1525.30" y="544.71" width="55.48" height="30.74" fill="#FF2D2D"/>
<rect x="1580.47" y="544.71" width="55.48" height="30.74" fill="#FFCCCC"/>
<rect x="1635.65" y="544.71" width="55.48" height="30.74" fill="#FFC7C7"/>
<rect x="1690.83" y="544.71" width="55.48" height="30.74" fill="#FFC7C7"/>
<rect x="1304.60" y="575.14" width="55.48" height="30.74" fill="#FF4242"/>
<rect x="1359.77" y="575.14" width="55.48" height="30.74" fill="#FFAEAE"/>
<rect x="1414.95" y="575.14" width="55.48" height="30.74" fill="#FFD9D9"/>
<rect x="1470.12" y="575.14" width="55.48" height="30.74" fill="#FFB3B3"/>
<rect x="1525.30" y="575.14" width="55.48" height="30.74" fill="#FF3C3C"/>
<rect x="1580.47" y="575.14" width="55.48" height="30.74" fill="#FFD1D1"/>
<rect x="1635.65" y="575.14" width="55.48" height="30.74" fill="#FFD5D5"/>
<rect x="1690.83" y="575.14" width="55.48" height="30.74" fill="#FFBDBD"/>
<rect x="1304.60" y="605.58" width="55.48" height="30.74" fill="#FF4242"/>
<rect x="1359.77" y="605.58" width="55.48" height="30.74" fill="#FFCCCC"/>
<rect x="1414.95" y="605.58" width="55.48" height="30.74" fill="#FFD1D1"/>
<rect x="1470.12" y="605.58" width="55.48" height="30.74" fill="#FFC2C2"/>
<rect x="1525.30" y="605.58" width="55.48" height="30.74" fill="#FF2D2D"/>
<rect x="1580.47" y="605.58" width="55.48" height="30.74" fill="#FFB8B8"/>
<rect x="1635.65" y="605.58" width="55.48" height="30.74" fill="#FFCCCC"/>
<rect x="1690.83" y="605.58" width="55.48" height="30.74" fill="#FFBDBD"/>
<rect x="1304.60" y="636.02" width="55.48" height="30.74" fill="#FF3737"/>
<rect x="1359.77" y="636.02" width="55.48" height="30.74" fill="#FFB8B8"/>
<rect x="1414.95" y="636.02" width="55.48" height="30.74" fill="#FFC7C7"/>
<rect x="1470.12" y="636.02" width="55.48" height="30.74" fill="#FFC7C7"/>
<rect x="1525.30" y="636.02" width="55.48" height="30.74" fill="#FF3737"/>
<rect x="1580.47" y="636.02" width="55.48" height="30.74" fill="#FFCCCC"/>
<rect x="1635.65" y="636.02" width="55.48" height="30.74" fill="#FFCCCC"/>
<rect x="1690.83" y="636.02" width="55.48" height="30.74" fill="#FFC7C7"/>
<rect x="1304.60" y="666.45" width="55.48" height="30.74" fill="#FF3737"/>
<rect x="1359.77" y="666.45" width="55.48" height="30.74" fill="#FFC2C2"/>
<rect x="1414.95" y="666.45" width="55.48" height="30.74" fill="#FFC7C7"/>
<rect x="1470.12" y="666.45" width="55.48" height="30.74" fill="#FFC7C7"/>
<rect x="1525.30" y="666.45" width="55.48" height="30.74" fill="#FF4242"/>
<rect x="1580.47" y="666.45" width="55.48" height="30.74" fill="#FFC7C7"/>
<rect x="1635.65" y="666.45" width="55.48" height="30.74" fill="#FFC7C7"/>
<rect x="1690.83" y="666.45" width="55.48" height="30.74" fill="#FFC7C7"/>
<rect x="1304.60" y="696.89" width="55.48" height="30.74" fill="#FF3C3C"/>
<rect x="1359.77" y="696.89" width="55.48" height="30.74" fill="#FFC7C7"/>
<rect x="1414.95" y="696.89" width="55.48" height="30.74" fill="#FFC2C2"/>
<rect x="1470.12" y="696.89" width="55.48" height="30.74" fill="#FFC2C2"/>
<rect x="1525.30" y="696.89" width="55.48" height="30.74" fill="#FF3737"/>
<rect x="1580.47" y="696.89" width="55.48" height="30.74" fill="#FFC7C7"/>
<rect x="1635.65" y="696.89" width="55.48" height="30.74" fill="#FFC7C7"/>
<rect x="1690.83" y="696.89" width="55.48" height="30.74" fill="#FFC2C2"/>
<rect x="1304.60" y="727.32" width="55.48" height="30.74" fill="#FF5B5B"/>
<rect x="1359.77" y="727.32" width="55.48" height="30.74" fill="#FFAEAE"/>
<rect x="1414.95" y="727.32" width="55.48" height="30.74" fill="#FFD5D5"/>
<rect x="1470.12" y="727.32" width="55.48" height="30.74" fill="#FFB8B8"/>
<rect x="1525.30" y="727.32" width="55.48" height="30.74" fill="#FF6767"/>
<rect x="1580.47" y="727.32" width="55.48" height="30.74" fill="#FFF1F1"/>
<rect x="1635.65" y="727.32" width="55.48" height="30.74" fill="#FFB3B3"/>
<rect x="1690.83" y="727.32" width="55.48" height="30.74" fill="#FF8B8B"/>
<rect x="1304.60" y="757.76" width="55.48" height="30.74" fill="#FF0000"/>
<rect x="1359.77" y="757.76" width="55.48" height="30.74" fill="#FFBDBD"/>
<rect x="1414.95" y="757.76" width="55.48" height="30.74" fill="#FFC2C2"/>
<rect x="1470.12" y="757.76" width="55.48" height="30.74" fill="#FFC2C2"/>
<rect x="1525.30" y="757.76" width="55.48" height="30.74" fill="#FFBDBD"/>
<rect x="1580.47" y="757.76" width="55.48" height="30.74" fill="#FFC2C2"/>
<rect x="1635.65" y="757.76" width="55.48" height="30.74" fill="#FFB3B3"/>
<rect x="1690.83" y="757.76" width="55.48" height="30.74" fill="#FFBDBD"/>
<rect x="1304.60" y="788.20" width="55.48" height="30.74" fill="#FF0000"/>
<rect x="1359.77" y="788.20" width="55.48" height="30.74" fill="#FFBDBD"/>
<rect x="1414.95" y="788.20" width="55.48" height="30.74" fill="#FFBDBD"/>
<rect x="1470.12" y="788.20" width="55.48" height="30.74" fill="#FFB3B3"/>
<rect x="1525.30" y="788.20" width="55.48" height="30.74" fill="#FFB3B3"/>
<rect x="1580.47" y="788.20" width="55.48" height="30.74" fill="#FFBDBD"/>
<rect x="1635.65" y="788.20" width="55.48" height="30.74" fill="#FFBDBD"/>
<rect x="1690.83" y="788.20" width="55.48" height="30.74" fill="#FFC2C2"/>
<rect x="1304.60" y="818.63" width="55.48" height="30.74" fill="#FF0000"/>
<rect x="1359.77" y="818.63" width="55.48" height="30.74" fill="#FFBDBD"/>
<rect x="1414.95" y="818.63" width="55.48" height="30.74" fill="#FFC2C2"/>
<rect x="1470.12" y="818.63" width="55.48" height="30.74" fill="#FFBDBD"/>
<rect x="1525.30" y="818.63" width="55.48" height="30.74" fill="#FFA9A9"/>
<rect x="1580.47" y="818.63" width="55.48" height="30.74" fill="#FFBDBD"/>
<rect x="1635.65" y="818.63" width="55.48" height="30.74" fill="#FFBDBD"/>
<rect x="1690.83" y="818.63" width="55.48" height="30.74" fill="#FFBDBD"/>
<rect x="1304.60" y="849.07" width="55.48" height="30.74" fill="#FF0A0A"/>
<rect x="1359.77" y="849.07" width="55.48" height="30.74" fill="#FFBDBD"/>
<rect x="1414.95" y="849.07" width="55.48" height="30.74" fill="#FFBDBD"/>
<rect x="1470.12" y="849.07" width="55.48" height="30.74" fill="#FFBDBD"/>
<rect x="1525.30" y="849.07" width="55.48" height="30.74" fill="#FF9595"/>
<rect x="1580.47" y="849.07" width="55.48" height="30.74" fill="#FFBDBD"/>
<rect x="1635.65" y="849.07" width="55.48" height="30.74" fill="#FFBDBD"/>
<rect x="1690.83" y="849.07" width="55.48" height="30.74" fill="#FFBDBD"/>
<rect x="1304.60" y="879.50" width="55.48" height="30.74" fill="#FFA4A4"/>
<rect x="1359.77" y="879.50" width="55.48" height="30.74" fill="#FFC2C2"/>
<rect x="1414.95" y="879.50" width="55.48" height="30.74" fill="#FFBDBD"/>
<rect x="1470.12" y="879.50" width="55.48" height="30.74" fill="#FFD1D1"/>
<rect x="1525.30" y="879.50" width="55.48" height="30.74" fill="#FF8181"/>
<rect x="1580.47" y="879.50" width="55.48" height="30.74" fill="#FFD1D1"/>
<rect x="1635.65" y="879.50" width="55.48" height="30.74" fill="#FF1E1E"/>
<rect x="1690.83" y="879.50" width="55.48" height="30.74" fill="#FFC2C2"/>
<rect x="1304.60" y="909.94" width="55.48" height="30.74" fill="#FFBDBD"/>
<rect x="1359.77" y="909.94" width="55.48" height="30.74" fill="#FFA9A9"/>
<rect x="1414.95" y="909.94" width="55.48" height="30.74" fill="#FFAEAE"/>
<rect x="1470.12" y="909.94" width="55.48" height="30.74" fill="#FFBDBD"/>
<rect x="1525.30" y="909.94" width="55.48" height="30.74" fill="#FF8181"/>
<rect x="1580.47" y="909.94" width="55.48" height="30.74" fill="#FFBDBD"/>
<rect x="1635.65" y="909.94" width="55.48" height="30.74" fill="#FF3737"/>
<rect x="1690.83" y="909.94" width="55.48" height="30.74" fill="#FFF1F1"/>
<rect x="1304.60" y="940.37" width="55.48" height="30.74" fill="#FF7979"/>
<rect x="1359.77" y="940.37" width="55.48" height="30.74" fill="#FF5757"/>
<rect x="1414.95" y="940.37" width="55.48" height="30.74" fill="#FFD7D7"/>
<rect x="1470.12" y="940.37" width="55.48" height="30.74" fill="#FF8181"/>
<rect x="1525.30" y="940.37" width="55.48" height="30.74" fill="#FFCFCF"/>
<rect x="1580.47" y="940.37" width="55.48" height="30.74" fill="#FF9797"/>
<rect x="1635.65" y="940.37" width="55.48" height="30.74" fill="#FFAEAE"/>
<rect x="1690.83" y="940.37" width="55.48" height="30.74" fill="#FFE7E7"/>
<rect x="1304.60" y="970.81" width="55.48" height="30.74" fill="#FF6D6D"/>
<rect x="1359.77" y="970.81" width="55.48" height="30.74" fill="#FF9A9A"/>
<rect x="1414.95" y="970.81" width="55.48" height="30.74" fill="#FFE9E9"/>
<rect x="1470.12" y="970.81" width="55.48" height="30.74" fill="#FFA9A9"/>
<rect x="1525.30" y="970.81" width="55.48" height="30.74" fill="#FFAEAE"/>
<rect x="1580.47" y="970.81" width="55.48" height="30.74" fill="#FF8686"/>
<rect x="1635.65" y="970.81" width="55.48" height="30.74" fill="#FF8686"/>
<rect x="1690.83" y="970.81" width="55.48" height="30.74" fill="#FFDDDD"/>
<rect x="1304.60" y="1001.25" width="55.48" height="30.74" fill="#FF6767"/>
<rect x="1359.77" y="1001.25" width="55.48" height="30.74" fill="#FF6161"/>
<rect x="1414.95" y="1001.25" width="55.48" height="30.74" fill="#FFE1E1"/>
<rect x="1470.12" y="1001.25" width="55.48" height="30.74" fill="#FFC7C7"/>
<rect x="1525.30" y="1001.25" width="55.48" height="30.74" fill="#FF6767"/>
<rect x="1580.47" y="1001.25" width="55.48" height="30.74" fill="#FFAEAE"/>
<rect x="1635.65" y="1001.25" width="55.48" height="30.74" fill="#FF9F9F"/>
<rect x="1690.83" y="1001.25" width="55.48" height="30.74" fill="#FFDDDD"/>
<rect x="1304.60" y="1031.68" width="55.48" height="30.74" fill="#FF6D6D"/>
<rect x="1359.77" y="1031.68" width="55.48" height="30.74" fill="#FF6767"/>
<rect x="1414.95" y="1031.68" width="55.48" height="30.74" fill="#FFD5D5"/>
<rect x="1470.12" y="1031.68" width="55.48" height="30.74" fill="#FFC7C7"/>
<rect x="1525.30" y="1031.68" width="55.48" height="30.74" fill="#FF7777"/>
<rect x="1580.47" y="1031.68" width="55.48" height="30.74" fill="#FFAEAE"/>
<rect x="1635.65" y="1031.68" width="55.48" height="30.74" fill="#FFA9A9"/>
<rect x="1690.83" y="1031.68" width="55.48" height="30.74" fill="#FFE5E5"/>
<rect x="1304.60" y="1062.12" width="55.48" height="30.74" fill="#FF2D2D"/>
<rect x="1359.77" y="1062.12" width="55.48" height="30.74" fill="#FF8B8B"/>
<rect x="1414.95" y="1062.12" width="55.48" height="30.74" fill="#FFC2C2"/>
<rect x="1470.12" y="1062.12" width="55.48" height="30.74" fill="#FFA4A4"/>
<rect x="1525.30" y="1062.12" width="55.48" height="30.74" fill="#FF7777"/>
<rect x="1580.47" y="1062.12" width="55.48" height="30.74" fill="#FFC7C7"/>
<rect x="1635.65" y="1062.12" width="55.48" height="30.74" fill="#FFD1D1"/>
<rect x="1690.83" y="1062.12" width="55.48" height="30.74" fill="#FFDDDD"/>
<rect x="1304.60" y="1092.55" width="55.48" height="30.74" fill="#FF2D2D"/>
<rect x="1359.77" y="1092.55" width="55.48" height="30.74" fill="#FF8181"/>
<rect x="1414.95" y="1092.55" width="55.48" height="30.74" fill="#FFB8B8"/>
<rect x="1470.12" y="1092.55" width="55.48" height="30.74" fill="#FFC2C2"/>
<rect x="1525.30" y="1092.55" width="55.48" height="30.74" fill="#FF8B8B"/>
<rect x="1580.47" y="1092.55" width="55.48" height="30.74" fill="#FFC7C7"/>
<rect x="1635.65" y="1092.55" width="55.48" height="30.74" fill="#FFBDBD"/>
<rect x="1690.83" y="1092.55" width="55.48" height="30.74" fill="#FFE5E5"/>
<rect x="1304.60" y="1122.99" width="55.48" height="30.74" fill="#FFC2C2"/>
<rect x="1359.77" y="1122.99" width="55.48" height="30.74" fill="#FFC2C2"/>
<rect x="1414.95" y="1122.99" width="55.48" height="30.74" fill="#FFC7C7"/>
<rect x="1470.12" y="1122.99" width="55.48" height="30.74" fill="#FF3232"/>
<rect x="1525.30" y="1122.99" width="55.48" height="30.74" fill="#FFC2C2"/>
<rect x="1580.47" y="1122.99" width="55.48" height="30.74" fill="#FFC7C7"/>
<rect x="1635.65" y="1122.99" width="55.48" height="30.74" fill="#FFC7C7"/>
<rect x="1690.83" y="1122.99" width="55.48" height="30.74" fill="#FF3C3C"/>
<rect x="1304.60" y="1153.42" width="55.48" height="30.74" fill="#FFC2C2"/>
<rect x="1359.77" y="1153.42" width="55.48" height="30.74" fill="#FFC2C2"/>
<rect x="1414.95" y="1153.42" width="55.48" height="30.74" fill="#FFBDBD"/>
<rect x="1470.12" y="1153.42" width="55.48" height="30.74" fill="#FF4E4E"/>
<rect x="1525.30" y="1153.42" width="55.48" height="30.74" fill="#FFBDBD"/>
<rect x="1580.47" y="1153.42" width="55.48" height="30.74" fill="#FFC2C2"/>
<rect x="1635.65" y="1153.42" width="55.48" height="30.74" fill="#FFC2C2"/>
<rect x="1690.83" y="1153.42" width="55.48" height="30.74" fill="#FF2828"/>
<rect x="1304.60" y="1183.86" width="55.48" height="30.74" fill="#FFE1E1"/>
<rect x="1359.77" y="1183.86" width="55.48" height="30.74" fill="#FFBDBD"/>
<rect x="1414.95" y="1183.86" width="55.48" height="30.74" fill="#FF5454"/>
<rect x="1470.12" y="1183.86" width="55.48" height="30.74" fill="#FFBDBD"/>
<rect x="1525.30" y="1183.86" width="55.48" height="30.74" fill="#FFCCCC"/>
<rect x="1580.47" y="1183.86" width="55.48" height="30.74" fill="#FF9595"/>
<rect x="1635.65" y="1183.86" width="55.48" height="30.74" fill="#FF9F9F"/>
<rect x="1690.83" y="1183.86" width="55.48" height="30.74" fill="#FF5454"/>
<rect x="1304.60" y="1214.30" width="55.48" height="30.74" fill="#FFDDDD"/>
<rect x="1359.77" y="1214.30" width="55.48" height="30.74" fill="#FF9595"/>
<rect x="1414.95" y="1214.30" width="55.48" height="30.74" fill="#FFAEAE"/>
<rect x="1470.12" y="1214.30" width="55.48" height="30.74" fill="#FFAEAE"/>
<rect x="1525.30" y="1214.30" width="55.48" height="30.74" fill="#FFE1E1"/>
<rect x="1580.47" y="1214.30" width="55.48" height="30.74" fill="#FF9A9A"/>
<rect x="1635.65" y="1214.30" width="55.48" height="30.74" fill="#FF9595"/>
<rect x="1690.83" y="1214.30" width="55.48" height="30.74" fill="#FF3737"/>
<rect x="1304.60" y="1244.73" width="55.48" height="30.74" fill="#FFD9D9"/>
<rect x="1359.77" y="1244.73" width="55.48" height="30.74" fill="#FFB8B8"/>
<rect x="1414.95" y="1244.73" width="55.48" height="30.74" fill="#FFBDBD"/>
<rect x="1470.12" y="1244.73" width="55.48" height="30.74" fill="#FF8B8B"/>
<rect x="1525.30" y="1244.73" width="55.48" height="30.74" fill="#FFD9D9"/>
<rect x="1580.47" y="1244.73" width="55.48" height="30.74" fill="#FF9595"/>
<rect x="1635.65" y="1244.73" width="55.48" height="30.74" fill="#FF9595"/>
<rect x="1690.83" y="1244.73" width="55.48" height="30.74" fill="#FF3737"/>
<rect x="1304.60" y="1275.17" width="55.48" height="30.74" fill="#FFDDDD"/>
<rect x="1359.77" y="1275.17" width="55.48" height="30.74" fill="#FFB8B8"/>
<rect x="1414.95" y="1275.17" width="55.48" height="30.74" fill="#FFBDBD"/>
<rect x="1470.12" y="1275.17" width="55.48" height="30.74" fill="#FF8686"/>
<rect x="1525.30" y="1275.17" width="55.48" height="30.74" fill="#FFD5D5"/>
<rect x="1580.47" y="1275.17" width="55.48" height="30.74" fill="#FF4242"/>
<rect x="1635.65" y="1275.17" width="55.48" height="30.74" fill="#FFA9A9"/>
<rect x="1690.83" y="1275.17" width="55.48" height="30.74" fill="#FF8181"/>
<rect x="1304.60" y="1305.60" width="55.48" height="30.74" fill="#FFCCCC"/>
<rect x="1359.77" y="1305.60" width="55.48" height="30.74" fill="#FFBDBD"/>
<rect x="1414.95" y="1305.60" width="55.48" height="30.74" fill="#FFA4A4"/>
<rect x="1470.12" y="1305.60" width="55.48" height="30.74" fill="#FFB3B3"/>
<rect x="1525.30" y="1305.60" width="55.48" height="30.74" fill="#FFEDED"/>
<rect x="1580.47" y="1305.60" width="55.48" height="30.74" fill="#FF5454"/>
<rect x="1635.65" y="1305.60" width="55.48" height="30.74" fill="#FFA4A4"/>
<rect x="1690.83" y="1305.60" width="55.48" height="30.74" fill="#FF6767"/>
<rect x="1304.60" y="1336.04" width="55.48" height="30.74" fill="#FFB8B8"/>
<rect x="1359.77" y="1336.04" width="55.48" height="30.74" fill="#FFD9D9"/>
<rect x="1414.95" y="1336.04" width="55.48" height="30.74" fill="#FFDDDD"/>
<rect x="1470.12" y="1336.04" width="55.48" height="30.74" fill="#FF6767"/>
<rect x="1525.30" y="1336.04" width="55.48" height="30.74" fill="#FFAEAE"/>
<rect x="1580.47" y="1336.04" width="55.48" height="30.74" fill="#FF5454"/>
<rect x="1635.65" y="1336.04" width="55.48" height="30.74" fill="#FF8686"/>
<rect x="1690.83" y="1336.04" width="55.48" height="30.74" fill="#FFD1D1"/>
<rect x="1304.60" y="1366.48" width="55.48" height="30.74" fill="#FF9595"/>
<rect x="1359.77" y="1366.48" width="55.48" height="30.74" fill="#FFB3B3"/>
<rect x="1414.95" y="1366.48" width="55.48" height="30.74" fill="#FFD5D5"/>
<rect x="1470.12" y="1366.48" width="55.48" height="30.74" fill="#FFCCCC"/>
<rect x="1525.30" y="1366.48" width="55.48" height="30.74" fill="#FFC7C7"/>
<rect x="1580.47" y="1366.48" width="55.48" height="30.74" fill="#FF4242"/>
<rect x="1635.65" y="1366.48" width="55.48" height="30.74" fill="#FF6161"/>
<rect x="1690.83" y="1366.48" width="55.48" height="30.74" fill="#FFD5D5"/>
<rect x="1304.60" y="1396.91" width="55.48" height="30.74" fill="#FFC7C7"/>
<rect x="1359.77" y="1396.91" width="55.48" height="30.74" fill="#FFBFBF"/>
<rect x="1414.95" y="1396.91" width="55.48" height="30.74" fill="#FFC2C2"/>
<rect x="1470.12" y="1396.91" width="55.48" height="30.74" fill="#FFC2C2"/>
<rect x="1525.30" y="1396.91" width="55.48" height="30.74" fill="#FFBFBF"/>
<rect x="1580.47" y="1396.91" width="55.48" height="30.74" fill="#FF0000"/>
<rect x="1635.65" y="1396.91" width="55.48" height="30.74" fill="#FF9090"/>
<rect x="1690.83" y="1396.91" width="55.48" height="30.74" fill="#FFC7C7"/>
<rect x="1304.60" y="1427.35" width="55.48" height="30.74" fill="#FF9A9A"/>
<rect x="1359.77" y="1427.35" width="55.48" height="30.74" fill="#FFBDBD"/>
<rect x="1414.95" y="1427.35" width="55.48" height="30.74" fill="#FFEDED"/>
<rect x="1470.12" y="1427.35" width="55.48" height="30.74" fill="#FFCCCC"/>
<rect x="1525.30" y="1427.35" width="55.48" height="30.74" fill="#FFA9A9"/>
<rect x="1580.47" y="1427.35" width="55.48" height="30.74" fill="#FF4E4E"/>
<rect x="1635.65" y="1427.35" width="55.48" height="30.74" fill="#FF7C7C"/>
<rect x="1690.83" y="1427.35" width="55.48" height="30.74" fill="#FFA9A9"/>
<rect x="1304.60" y="1457.78" width="55.48" height="30.74" fill="#FF9A9A"/>
<rect x="1359.77" y="1457.78" width="55.48" height="30.74" fill="#FFC7C7"/>
<rect x="1414.95" y="1457.78" width="55.48" height="30.74" fill="#FFE1E1"/>
<rect x="1470.12" y="1457.78" width="55.48" height="30.74" fill="#FFC7C7"/>
<rect x="1525.30" y="1457.78" width="55.48" height="30.74" fill="#FFBDBD"/>
<rect x="1580.47" y="1457.78" width="55.48" height="30.74" fill="#FF3C3C"/>
<rect x="1635.65" y="1457.78" width="55.48" height="30.74" fill="#FF9595"/>
<rect x="1690.83" y="1457.78" width="55.48" height="30.74" fill="#FF7272"/>
<rect x="1304.60" y="1488.22" width="55.48" height="30.74" fill="#FF9595"/>
<rect x="1359.77" y="1488.22" width="55.48" height="30.74" fill="#FFB8B8"/>
<rect x="1414.95" y="1488.22" width="55.48" height="30.74" fill="#FFE9E9"/>
<rect x="1470.12" y="1488.22" width="55.48" height="30.74" fill="#FFD1D1"/>
<rect x="1525.30" y="1488.22" width="55.48" height="30.74" fill="#FFB3B3"/>
<rect x="1580.47" y="1488.22" width="55.48" height="30.74" fill="#FF5B5B"/>
<rect x="1635.65" y="1488.22" width="55.48" height="30.74" fill="#FF7777"/>
<rect x="1690.83" y="1488.22" width="55.48" height="30.74" fill="#FF7777"/>
<rect x="1304.60" y="1518.65" width="55.48" height="30.74" fill="#FFB8B8"/>
<rect x="1359.77" y="1518.65" width="55.48" height="30.74" fill="#FFB8B8"/>
<rect x="1414.95" y="1518.65" width="55.48" height="30.74" fill="#FFDDDD"/>
<rect x="1470.12" y="1518.65" width="55.48" height="30.74" fill="#FFD1D1"/>
<rect x="1525.30" y="1518.65" width="55.48" height="30.74" fill="#FFB8B8"/>
<rect x="1580.47" y="1518.65" width="55.48" height="30.74" fill="#FF4E4E"/>
<rect x="1635.65" y="1518.65" width="55.48" height="30.74" fill="#FF6161"/>
<rect x="1690.83" y="1518.65" width="55.48" height="30.74" fill="#FF7272"/>
<rect x="1304.60" y="1549.09" width="55.48" height="30.74" fill="#FFD5D5"/>
<rect x="1359.77" y="1549.09" width="55.48" height="30.74" fill="#FFB3B3"/>
<rect x="1414.95" y="1549.09" width="55.48" height="30.74" fill="#FFD1D1"/>
<rect x="1470.12" y="1549.09" width="55.48" height="30.74" fill="#FFB3B3"/>
<rect x="1525.30" y="1549.09" width="55.48" height="30.74" fill="#FFDDDD"/>
<rect x="1580.47" y="1549.09" width="55.48" height="30.74" fill="#FF5B5B"/>
<rect x="1635.65" y="1549.09" width="55.48" height="30.74" fill="#FF5B5B"/>
<rect x="1690.83" y="1549.09" width="55.48" height="30.74" fill="#FF7272"/>
<rect x="1304.60" y="1579.53" width="55.48" height="30.74" fill="#FFDDDD"/>
<rect x="1359.77" y="1579.53" width="55.48" height="30.74" fill="#FFB8B8"/>
<rect x="1414.95" y="1579.53" width="55.48" height="30.74" fill="#FFC2C2"/>
<rect x="1470.12" y="1579.53" width="55.48" height="30.74" fill="#FFCCCC"/>
<rect x="1525.30" y="1579.53" width="55.48" height="30.74" fill="#FFC2C2"/>
<rect x="1580.47" y="1579.53" width="55.48" height="30.74" fill="#FF6161"/>
<rect x="1635.65" y="1579.53" width="55.48" height="30.74" fill="#FF5454"/>
<rect x="1690.83" y="1579.53" width="55.48" height="30.74" fill="#FF6161"/>
<rect x="1304.60" y="1609.96" width="55.48" height="30.74" fill="#FFD1D1"/>
<rect x="1359.77" y="1609.96" width="55.48" height="30.74" fill="#FFBDBD"/>
<rect x="1414.95" y="1609.96" width="55.48" height="30.74" fill="#FFCCCC"/>
<rect x="1470.12" y="1609.96" width="55.48" height="30.74" fill="#FFCCCC"/>
<rect x="1525.30" y="1609.96" width="55.48" height="30.74" fill="#FFC7C7"/>
<rect x="1580.47" y="1609.96" width="55.48" height="30.74" fill="#FF2828"/>
<rect x="1635.65" y="1609.96" width="55.48" height="30.74" fill="#FF6D6D"/>
<rect x="1690.83" y="1609.96" width="55.48" height="30.74" fill="#FF8B8B"/>
<rect x="1304.60" y="1640.40" width="55.48" height="30.74" fill="#FF9595"/>
<rect x="1359.77" y="1640.40" width="55.48" height="30.74" fill="#FF2828"/>
<rect x="1414.95" y="1640.40" width="55.48" height="30.74" fill="#FF7777"/>
<rect x="1470.12" y="1640.40" width="55.48" height="30.74" fill="#FFC2C2"/>
<rect x="1525.30" y="1640.40" width="55.48" height="30.74" fill="#FFB8B8"/>
<rect x="1580.47" y="1640.40" width="55.48" height="30.74" fill="#FFD9D9"/>
<rect x="1635.65" y="1640.40" width="55.48" height="30.74" fill="#FFD1D1"/>
<rect x="1690.83" y="1640.40" width="55.48" height="30.74" fill="#FFD1D1"/>
<rect x="1304.60" y="1670.83" width="55.48" height="30.74" fill="#FF9090"/>
<rect x="1359.77" y="1670.83" width="55.48" height="30.74" fill="#FF3C3C"/>
<rect x="1414.95" y="1670.83" width="55.48" height="30.74" fill="#FF6D6D"/>
<rect x="1470.12" y="1670.83" width="55.48" height="30.74" fill="#FFA4A4"/>
<rect x="1525.30" y="1670.83" width="55.48" height="30.74" fill="#FFB3B3"/>
<rect x="1580.47" y="1670.83" width="55.48" height="30.74" fill="#FFC2C2"/>
<rect x="1635.65" y="1670.83" width="55.48" height="30.74" fill="#FFCCCC"/>
<rect x="1690.83" y="1670.83" width="55.48" height="30.74" fill="#FFE5E5"/>
<rect x="1304.60" y="1701.27" width="55.48" height="30.74" fill="#FF8181"/>
<rect x="1359.77" y="1701.27" width="55.48" height="30.74" fill="#FF2D2D"/>
<rect x="1414.95" y="1701.27" width="55.48" height="30.74" fill="#FF9A9A"/>
<rect x="1470.12" y="1701.27" width="55.48" height="30.74" fill="#FF8B8B"/>
<rect x="1525.30" y="1701.27" width="55.48" height="30.74" fill="#FFB3B3"/>
<rect x="1580.47" y="1701.27" width="55.48" height="30.74" fill="#FFD1D1"/>
<rect x="1635.65" y="1701.27" width="55.48" height="30.74" fill="#FFD1D1"/>
<rect x="1690.83" y="1701.27" width="55.48" height="30.74" fill="#FFD5D5"/>
<rect x="1304.60" y="1731.70" width="55.48" height="30.74" fill="#FF8686"/>
<rect x="1359.77" y="1731.70" width="55.48" height="30.74" fill="#FF3C3C"/>
<rect x="1414.95" y="1731.70" width="55.48" height="30.74" fill="#FF6D6D"/>
<rect x="1470.12" y="1731.70" width="55.48" height="30.74" fill="#FF9A9A"/>
<rect x="1525.30" y="1731.70" width="55.48" height="30.74" fill="#FFA9A9"/>
<rect x="1580.47" y="1731.70" width="55.48" height="30.74" fill="#FFD9D9"/>
<rect x="1635.65" y="1731.70" width="55.48" height="30.74" fill="#FFD5D5"/>
<rect x="1690.83" y="1731.70" width="55.48" height="30.74" fill="#FFD9D9"/>
<rect x="1304.60" y="1762.14" width="55.48" height="30.74" fill="#FFCCCC"/>
<rect x="1359.77" y="1762.14" width="55.48" height="30.74" fill="#FFAEAE"/>
<rect x="1414.95" y="1762.14" width="55.48" height="30.74" fill="#FF1E1E"/>
<rect x="1470.12" y="1762.14" width="55.48" height="30.74" fill="#FF4E4E"/>
<rect x="1525.30" y="1762.14" width="55.48" height="30.74" fill="#FFC2C2"/>
<rect x="1580.47" y="1762.14" width="55.48" height="30.74" fill="#FFBDBD"/>
<rect x="1635.65" y="1762.14" width="55.48" height="30.74" fill="#FFC7C7"/>
<rect x="1690.83" y="1762.14" width="55.48" height="30.74" fill="#FFC2C2"/>
<rect x="1304.60" y="1792.58" width="55.48" height="30.74" fill="#FFC2C2"/>
<rect x="1359.77" y="1792.58" width="55.48" height="30.74" fill="#FF4848"/>
<rect x="1414.95" y="1792.58" width="55.48" height="30.74" fill="#FF8B8B"/>
<rect x="1470.12" y="1792.58" width="55.48" height="30.74" fill="#FF3C3C"/>
<rect x="1525.30" y="1792.58" width="55.48" height="30.74" fill="#FFC7C7"/>
<rect x="1580.47" y="1792.58" width="55.48" height="30.74" fill="#FFCCCC"/>
<rect x="1635.65" y="1792.58" width="55.48" height="30.74" fill="#FFCCCC"/>
<rect x="1690.83" y="1792.58" width="55.48" height="30.74" fill="#FFC7C7"/>
<rect x="1304.60" y="1823.01" width="55.48" height="30.74" fill="#FFD0D0"/>
<rect x="1359.77" y="1823.01" width="55.48" height="30.74" fill="#FF5C5C"/>
<rect x="1414.95" y="1823.01" width="55.48" height="30.74" fill="#FF4040"/>
<rect x="1470.12" y="1823.01" width="55.48" height="30.74" fill="#FF7676"/>
<rect x="1525.30" y="1823.01" width="55.48" height="30.74" fill="#FFCCCC"/>
<rect x="1580.47" y="1823.01" width="55.48" height="30.74" fill="#FFCCCC"/>
<rect x="1635.65" y="1823.01" width="55.48" height="30.74" fill="#FFCCCC"/>
<rect x="1690.83" y="1823.01" width="55.48" height="30.74" fill="#FFC8C8"/>
<rect x="1304.60" y="1853.45" width="55.48" height="30.74" fill="#FFD4D4"/>
<rect x="1359.77" y="1853.45" width="55.48" height="30.74" fill="#FF7070"/>
<rect x="1414.95" y="1853.45" width="55.48" height="30.74" fill="#FF6464"/>
<rect x="1470.12" y="1853.45" width="55.48" height="30.74" fill="#FF5858"/>
<rect x="1525.30" y="1853.45" width="55.48" height="30.74" fill="#FFD0D0"/>
<rect x="1580.47" y="1853.45" width="55.48" height="30.74" fill="#FFD0D0"/>
<rect x="1635.65" y="1853.45" width="55.48" height="30.74" fill="#FFA8A8"/>
<rect x="1690.83" y="1853.45" width="55.48" height="30.74" fill="#FFCECE"/>
<rect x="1304.60" y="1883.88" width="55.48" height="30.74" fill="#FFD4D4"/>
<rect x="1359.77" y="1883.88" width="55.48" height="30.74" fill="#FF7272"/>
<rect x="1414.95" y="1883.88" width="55.48" height="30.74" fill="#FF6868"/>
<rect x="1470.12" y="1883.88" width="55.48" height="30.74" fill="#FF5656"/>
<rect x="1525.30" y="1883.88" width="55.48" height="30.74" fill="#FFD0D0"/>
<rect x="1580.47" y="1883.88" width="55.48" height="30.74" fill="#FFD0D0"/>
<rect x="1635.65" y="1883.88" width="55.48" height="30.74" fill="#FFACAC"/>
<rect x="1690.83" y="1883.88" width="55.48" height="30.74" fill="#FFCECE"/>
<rect x="1304.60" y="1914.32" width="55.48" height="30.74" fill="#FFD0D0"/>
<rect x="1359.77" y="1914.32" width="55.48" height="30.74" fill="#FFACAC"/>
<rect x="1414.95" y="1914.32" width="55.48" height="30.74" fill="#FF8C8C"/>
<rect x="1470.12" y="1914.32" width="55.48" height="30.74" fill="#FF7474"/>
<rect x="1525.30" y="1914.32" width="55.48" height="30.74" fill="#FFC0C0"/>
<rect x="1580.47" y="1914.32" width="55.48" height="30.74" fill="#FFD0D0"/>
<rect x="1635.65" y="1914.32" width="55.48" height="30.74" fill="#FF3434"/>
<rect x="1690.83" y="1914.32" width="55.48" height="30.74" fill="#FFD0D0"/>
<rect x="1304.60" y="1944.76" width="55.48" height="30.74" fill="#FFD1D1"/>
<rect x="1359.77" y="1944.76" width="55.48" height="30.74" fill="#FFA0A0"/>
<rect x="1414.95" y="1944.76" width="55.48" height="30.74" fill="#FF3232"/>
<rect x="1470.12" y="1944.76" width="55.48" height="30.74" fill="#FFA9A9"/>
<rect x="1525.30" y="1944.76" width="55.48" height="30.74" fill="#FFE5E5"/>
<rect x="1580.47" y="1944.76" width="55.48" height="30.74" fill="#FFBDBD"/>
<rect x="1635.65" y="1944.76" width="55.48" height="30.74" fill="#FF8B8B"/>
<rect x="1690.83" y="1944.76" width="55.48" height="30.74" fill="#FFB8B8"/>
<rect x="1304.60" y="1975.19" width="55.48" height="30.74" fill="#FFE4E4"/>
<rect x="1359.77" y="1975.19" width="55.48" height="30.74" fill="#FF9494"/>
<rect x="1414.95" y="1975.19" width="55.48" height="30.74" fill="#FF7474"/>
<rect x="1470.12" y="1975.19" width="55.48" height="30.74" fill="#FF8C8C"/>
<rect x="1525.30" y="1975.19" width="55.48" height="30.74" fill="#FFD8D8"/>
<rect x="1580.47" y="1975.19" width="55.48" height="30.74" fill="#FF8484"/>
<rect x="1635.65" y="1975.19" width="55.48" height="30.74" fill="#FF7C7C"/>
<rect x="1690.83" y="1975.19" width="55.48" height="30.74" fill="#FFC8C8"/>
<rect x="1304.60" y="2005.63" width="55.48" height="30.74" fill="#FFC2C2"/>
<rect x="1359.77" y="2005.63" width="55.48" height="30.74" fill="#FFC7C7"/>
<rect x="1414.95" y="2005.63" width="55.48" height="30.74" fill="#FFC2C2"/>
<rect x="1470.12" y="2005.63" width="55.48" height="30.74" fill="#FF2828"/>
<rect x="1525.30" y="2005.63" width="55.48" height="30.74" fill="#FF4E4E"/>
<rect x="1580.47" y="2005.63" width="55.48" height="30.74" fill="#FFC7C7"/>
<rect x="1635.65" y="2005.63" width="55.48" height="30.74" fill="#FFC2C2"/>
<rect x="1690.83" y="2005.63" width="55.48" height="30.74" fill="#FFC7C7"/>
<rect x="1304.60" y="2036.06" width="55.48" height="30.74" fill="#FFBDBD"/>
<rect x="1359.77" y="2036.06" width="55.48" height="30.74" fill="#FFC2C2"/>
<rect x="1414.95" y="2036.06" width="55.48" height="30.74" fill="#FFC2C2"/>
<rect x="1470.12" y="2036.06" width="55.48" height="30.74" fill="#FF0000"/>
<rect x="1525.30" y="2036.06" width="55.48" height="30.74" fill="#FFBDBD"/>
<rect x="1580.47" y="2036.06" width="55.48" height="30.74" fill="#FFC2C2"/>
<rect x="1635.65" y="2036.06" width="55.48" height="30.74" fill="#FFBDBD"/>
<rect x="1690.83" y="2036.06" width="55.48" height="30.74" fill="#FFBDBD"/>
<rect x="1304.60" y="2066.50" width="55.48" height="30.74" fill="#FFBDBD"/>
<rect x="1359.77" y="2066.50" width="55.48" height="30.74" fill="#FFBDBD"/>
<rect x="1414.95" y="2066.50" width="55.48" height="30.74" fill="#FFC2C2"/>
<rect x="1470.12" y="2066.50" width="55.48" height="30.74" fill="#FF0000"/>
<rect x="1525.30" y="2066.50" width="55.48" height="30.74" fill="#FFBDBD"/>
<rect x="1580.47" y="2066.50" width="55.48" height="30.74" fill="#FFBDBD"/>
<rect x="1635.65" y="2066.50" width="55.48" height="30.74" fill="#FFBDBD"/>
<rect x="1690.83" y="2066.50" width="55.48" height="30.74" fill="#FFBDBD"/>
<rect x="1304.60" y="2096.93" width="55.48" height="30.74" fill="#FF9090"/>
<rect x="1359.77" y="2096.93" width="55.48" height="30.74" fill="#FF6D6D"/>
<rect x="1414.95" y="2096.93" width="55.48" height="30.74" fill="#FF8B8B"/>
<rect x="1470.12" y="2096.93" width="55.48" height="30.74" fill="#FF4E4E"/>
<rect x="1525.30" y="2096.93" width="55.48" height="30.74" fill="#FFA9A9"/>
<rect x="1580.47" y="2096.93" width="55.48" height="30.74" fill="#FFB8B8"/>
<rect x="1635.65" y="2096.93" width="55.48" height="30.74" fill="#FFD9D9"/>
<rect x="1690.83" y="2096.93" width="55.48" height="30.74" fill="#FFE1E1"/>
<rect x="1304.60" y="2127.37" width="55.48" height="30.74" fill="#FFACAC"/>
<rect x="1359.77" y="2127.37" width="55.48" height="30.74" fill="#FF4848"/>
<rect x="1414.95" y="2127.37" width="55.48" height="30.74" fill="#FFD5D5"/>
<rect x="1470.12" y="2127.37" width="55.48" height="30.74" fill="#FF4E4E"/>
<rect x="1525.30" y="2127.37" width="55.48" height="30.74" fill="#FF9595"/>
<rect x="1580.47" y="2127.37" width="55.48" height="30.74" fill="#FFB3B3"/>
<rect x="1635.65" y="2127.37" width="55.48" height="30.74" fill="#FFC2C2"/>
<rect x="1690.83" y="2127.37" width="55.48" height="30.74" fill="#FFE1E1"/>
<rect x="1304.60" y="2157.81" width="55.48" height="30.74" fill="#FF8989"/>
<rect x="1359.77" y="2157.81" width="55.48" height="30.74" fill="#FF7C7C"/>
<rect x="1414.95" y="2157.81" width="55.48" height="30.74" fill="#FFBDBD"/>
<rect x="1470.12" y="2157.81" width="55.48" height="30.74" fill="#FF4E4E"/>
<rect x="1525.30" y="2157.81" width="55.48" height="30.74" fill="#FF9595"/>
<rect x="1580.47" y="2157.81" width="55.48" height="30.74" fill="#FFBBBB"/>
<rect x="1635.65" y="2157.81" width="55.48" height="30.74" fill="#FFB3B3"/>
<rect x="1690.83" y="2157.81" width="55.48" height="30.74" fill="#FFF3F3"/>
<rect x="1304.60" y="2188.24" width="55.48" height="30.74" fill="#FF8181"/>
<rect x="1359.77" y="2188.24" width="55.48" height="30.74" fill="#FFA7A7"/>
<rect x="1414.95" y="2188.24" width="55.48" height="30.74" fill="#FFFFFF"/>
<rect x="1470.12" y="2188.24" width="55.48" height="30.74" fill="#FF9595"/>
<rect x="1525.30" y="2188.24" width="55.48" height="30.74" fill="#FF9D9D"/>
<rect x="1580.47" y="2188.24" width="55.48" height="30.74" fill="#FFA9A9"/>
<rect x="1635.65" y="2188.24" width="55.48" height="30.74" fill="#FF8B8B"/>
<rect x="1690.83" y="2188.24" width="55.48" height="30.74" fill="#FFB3B3"/>
<rect x="1304.60" y="2218.68" width="55.48" height="30.74" fill="#FFABAB"/>
<rect x="1359.77" y="2218.68" width="55.48" height="30.74" fill="#FF9A9A"/>
<rect x="1414.95" y="2218.68" width="55.48" height="30.74" fill="#FFFCFC"/>
<rect x="1470.12" y="2218.68" width="55.48" height="30.74" fill="#FFB3B3"/>
<rect x="1525.30" y="2218.68" width="55.48" height="30.74" fill="#FF9595"/>
<rect x="1580.47" y="2218.68" width="55.48" height="30.74" fill="#FF8181"/>
<rect x="1635.65" y="2218.68" width="55.48" height="30.74" fill="#FFB3B3"/>
<rect x="1690.83" y="2218.68" width="55.48" height="30.74" fill="#FF7272"/>
<rect x="1304.60" y="2249.11" width="55.48" height="30.74" fill="#FF9090"/>
<rect x="1359.77" y="2249.11" width="55.48" height="30.74" fill="#FF5C5C"/>
<rect x="1414.95" y="2249.11" width="55.48" height="30.74" fill="#FFF5F5"/>
<rect x="1470.12" y="2249.11" width="55.48" height="30.74" fill="#FF9595"/>
<rect x="1525.30" y="2249.11" width="55.48" height="30.74" fill="#FF8B8B"/>
<rect x="1580.47" y="2249.11" width="55.48" height="30.74" fill="#FF9797"/>
<rect x="1635.65" y="2249.11" width="55.48" height="30.74" fill="#FFABAB"/>
<rect x="1690.83" y="2249.11" width="55.48" height="30.74" fill="#FFCFCF"/>
<rect x="1304.60" y="2279.55" width="55.48" height="30.74" fill="#FFBDBD"/>
<rect x="1359.77" y="2279.55" width="55.48" height="30.74" fill="#FF4B4B"/>
<rect x="1414.95" y="2279.55" width="55.48" height="30.74" fill="#FFF1F1"/>
<rect x="1470.12" y="2279.55" width="55.48" height="30.74" fill="#FF9090"/>
<rect x="1525.30" y="2279.55" width="55.48" height="30.74" fill="#FFB5B5"/>
<rect x="1580.47" y="2279.55" width="55.48" height="30.74" fill="#FF9D9D"/>
<rect x="1635.65" y="2279.55" width="55.48" height="30.74" fill="#FF7777"/>
<rect x="1690.83" y="2279.55" width="55.48" height="30.74" fill="#FFBFBF"/>
<rect x="1304.60" y="2309.99" width="55.48" height="30.74" fill="#FFA7A7"/>
<rect x="1359.77" y="2309.99" width="55.48" height="30.74" fill="#FF3E3E"/>
<rect x="1414.95" y="2309.99" width="55.48" height="30.74" fill="#FFDBDB"/>
<rect x="1470.12" y="2309.99" width="55.48" height="30.74" fill="#FF5757"/>
<rect x="1525.30" y="2309.99" width="55.48" height="30.74" fill="#FFE1E1"/>
<rect x="1580.47" y="2309.99" width="55.48" height="30.74" fill="#FFB1B1"/>
<rect x="1635.65" y="2309.99" width="55.48" height="30.74" fill="#FFABAB"/>
<rect x="1690.83" y="2309.99" width="55.48" height="30.74" fill="#FFB5B5"/>
<rect x="1304.60" y="2340.42" width="55.48" height="30.74" fill="#FFA4A4"/>
<rect x="1359.77" y="2340.42" width="55.48" height="30.74" fill="#FF6D6D"/>
<rect x="1414.95" y="2340.42" width="55.48" height="30.74" fill="#FFE5E5"/>
<rect x="1470.12" y="2340.42" width="55.48" height="30.74" fill="#FF3232"/>
<rect x="1525.30" y="2340.42" width="55.48" height="30.74" fill="#FFB8B8"/>
<rect x="1580.47" y="2340.42" width="55.48" height="30.74" fill="#FFA9A9"/>
<rect x="1635.65" y="2340.42" width="55.48" height="30.74" fill="#FFC7C7"/>
<rect x="1690.83" y="2340.42" width="55.48" height="30.74" fill="#FFBDBD"/>
<rect x="1304.60" y="2370.86" width="55.48" height="30.74" fill="#FF8181"/>
<rect x="1359.77" y="2370.86" width="55.48" height="30.74" fill="#FF4E4E"/>
<rect x="1414.95" y="2370.86" width="55.48" height="30.74" fill="#FFE1E1"/>
<rect x="1470.12" y="2370.86" width="55.48" height="30.74" fill="#FF4E4E"/>
<rect x="1525.30" y="2370.86" width="55.48" height="30.74" fill="#FFBDBD"/>
<rect x="1580.47" y="2370.86" width="55.48" height="30.74" fill="#FFA9A9"/>
<rect x="1635.65" y="2370.86" width="55.48" height="30.74" fill="#FFC7C7"/>
<rect x="1690.83" y="2370.86" width="55.48" height="30.74" fill="#FFD1D1"/>
<rect x="1304.60" y="2401.29" width="55.48" height="30.74" fill="#FFA4A4"/>
<rect x="1359.77" y="2401.29" width="55.48" height="30.74" fill="#FF4848"/>
<rect x="1414.95" y="2401.29" width="55.48" height="30.74" fill="#FFDDDD"/>
<rect x="1470.12" y="2401.29" width="55.48" height="30.74" fill="#FF9F9F"/>
<rect x="1525.30" y="2401.29" width="55.48" height="30.74" fill="#FFE9E9"/>
<rect x="1580.47" y="2401.29" width="55.48" height="30.74" fill="#FFAEAE"/>
<rect x="1635.65" y="2401.29" width="55.48" height="30.74" fill="#FFA9A9"/>
<rect x="1690.83" y="2401.29" width="55.48" height="30.74" fill="#FF7272"/>
<rect x="1304.60" y="2431.73" width="55.48" height="30.74" fill="#FFB3B3"/>
<rect x="1359.77" y="2431.73" width="55.48" height="30.74" fill="#FFB3B3"/>
<rect x="1414.95" y="2431.73" width="55.48" height="30.74" fill="#FFB3B3"/>
<rect x="1470.12" y="2431.73" width="55.48" height="30.74" fill="#FFB3B3"/>
<rect x="1525.30" y="2431.73" width="55.48" height="30.74" fill="#FFB3B3"/>
<rect x="1580.47" y="2431.73" width="55.48" height="30.74" fill="#FFB3B3"/>
<rect x="1635.65" y="2431.73" width="55.48" height="30.74" fill="#FFB3B3"/>
<rect x="1690.83" y="2431.73" width="55.48" height="30.74" fill="#FFB3B3"/>
<rect x="1304.60" y="2462.16" width="55.48" height="30.74" fill="#FFB3B3"/>
<rect x="1359.77" y="2462.16" width="55.48" height="30.74" fill="#FFB3B3"/>
<rect x="1414.95" y="2462.16" width="55.48" height="30.74" fill="#FFB3B3"/>
<rect x="1470.12" y="2462.16" width="55.48" height="30.74" fill="#FFB3B3"/>
<rect x="1525.30" y="2462.16" width="55.48" height="30.74" fill="#FFB3B3"/>
<rect x="1580.47" y="2462.16" width="55.48" height="30.74" fill="#FFB3B3"/>
<rect x="1635.65" y="2462.16" width="55.48" height="30.74" fill="#FFB3B3"/>
<rect x="1690.83" y="2462.16" width="55.48" height="30.74" fill="#FFB3B3"/>
</g>
<g stroke="#141414" stroke-width="2.1" fill="none">
<line x1="1304.60" y1="57.74" x2="1746.00" y2="57.74"/>
<line x1="1304.60" y1="88.17" x2="1746.00" y2="88.17"/>
<line x1="1304.60" y1="118.61" x2="1746.00" y2="118.61"/>
<line x1="1304.60" y1="149.04" x2="1746.00" y2="149.04"/>
<line x1="1304.60" y1="179.48" x2="1746.00" y2="179.48"/>
<line x1="1304.60" y1="209.91" x2="1746.00" y2="209.91"/>
<line x1="1304.60" y1="240.35" x2="1746.00" y2="240.35"/>
<line x1="1304.60" y1="270.79" x2="1746.00" y2="270.79"/>
<line x1="1304.60" y1="301.22" x2="1746.00" y2="301.22"/>
<line x1="1304.60" y1="331.66" x2="1746.00" y2="331.66"/>
<line x1="1304.60" y1="362.09" x2="1746.00" y2="362.09"/>
<line x1="1304.60" y1="392.53" x2="1746.00" y2="392.53"/>
<line x1="1304.60" y1="422.97" x2="1746.00" y2="422.97"/>
<line x1="1304.60" y1="453.40" x2="1746.00" y2="453.40"/>
<line x1="1304.60" y1="483.84" x2="1746.00" y2="483.84"/>
<line x1="1304.60" y1="514.27" x2="1746.00" y2="514.27"/>
<line x1="1304.60" y1="544.71" x2="1746.00" y2="544.71"/>
<line x1="1304.60" y1="575.14" x2="1746.00" y2="575.14"/>
<line x1="1304.60" y1="605.58" x2="1746.00" y2="605.58"/>
<line x1="1304.60" y1="636.02" x2="1746.00" y2="636.02"/>
<line x1="1304.60" y1="666.45" x2="1746.00" y2="666.45"/>
<line x1="1304.60" y1="696.89" x2="1746.00" y2="696.89"/>
<line x1="1304.60" y1="727.32" x2="1746.00" y2="727.32"/>
<line x1="1304.60" y1="757.76" x2="1746.00" y2="757.76"/>
<line x1="1304.60" y1="788.20" x2="1746.00" y2="788.20"/>
<line x1="1304.60" y1="818.63" x2="1746.00" y2="818.63"/>
<line x1="1304.60" y1="849.07" x2="1746.00" y2="849.07"/>
<line x1="1304.60" y1="879.50" x2="1746.00" y2="879.50"/>
<line x1="1304.60" y1="909.94" x2="1746.00" y2="909.94"/>
<line x1="1304.60" y1="940.37" x2="1746.00" y2="940.37"/>
<line x1="1304.60" y1="970.81" x2="1746.00" y2="970.81"/>
<line x1="1304.60" y1="1001.25" x2="1746.00" y2="1001.25"/>
<line x1="1304.60" y1="1031.68" x2="1746.00" y2="1031.68"/>
<line x1="1304.60" y1="1062.12" x2="1746.00" y2="1062.12"/>
<line x1="1304.60" y1="1092.55" x2="1746.00" y2="1092.55"/>
<line x1="1304.60" y1="1122.99" x2="1746.00" y2="1122.99"/>
<line x1="1304.60" y1="1153.42" x2="1746.00" y2="1153.42"/>
<line x1="1304.60" y1="1183.86" x2="1746.00" y2="1183.86"/>
<line x1="1304.60" y1="1214.30" x2="1746.00" y2="1214.30"/>
<line x1="1304.60" y1="1244.73" x2="1746.00" y2="1244.73"/>
<line x1="1304.60" y1="1275.17" x2="1746.00" y2="1275.17"/>
<line x1="1304.60" y1="1305.60" x2="1746.00" y2="1305.60"/>
<line x1="1304.60" y1="1336.04" x2="1746.00" y2="1336.04"/>
<line x1="1304.60" y1="1366.48" x2="1746.00" y2="1366.48"/>
<line x1="1304.60" y1="1396.91" x2="1746.00" y2="1396.91"/>
<line x1="1304.60" y1="1427.35" x2="1746.00" y2="1427.35"/>
<line x1="1304.60" y1="1457.78" x2="1746.00" y2="1457.78"/>
<line x1="1304.60" y1="1488.22" x2="1746.00" y2="1488.22"/>
<line x1="1304.60" y1="1518.65" x2="1746.00" y2="1518.65"/>
<line x1="1304.60" y1="1549.09" x2="1746.00" y2="1549.09"/>
<line x1="1304.60" y1="1579.53" x2="1746.00" y2="1579.53"/>
<line x1="1304.60" y1="1609.96" x2="1746.00" y2="1609.96"/>
<line x1="1304.60" y1="1640.40" x2="1746.00" y2="1640.40"/>
<line x1="1304.60" y1="1670.83" x2="1746.00" y2="1670.83"/>
<line x1="1304.60" y1="1701.27" x2="1746.00" y2="1701.27"/>
<line x1="1304.60" y1="1731.70" x2="1746.00" y2="1731.70"/>
<line x1="1304.60" y1="1762.14" x2="1746.00" y2="1762.14"/>
<line x1="1304.60" y1="1792.58" x2="1746.00" y2="1792.58"/>
<line x1="1304.60" y1="1823.01" x2="1746.00" y2="1823.01"/>
<line x1="1304.60" y1="1853.45" x2="1746.00" y2="1853.45"/>
<line x1="1304.60" y1="1883.88" x2="1746.00" y2="1883.88"/>
<line x1="1304.60" y1="1914.32" x2="1746.00" y2="1914.32"/>
<line x1="1304.60" y1="1944.76" x2="1746.00" y2="1944.76"/>
<line x1="1304.60" y1="1975.19" x2="1746.00" y2="1975.19"/>
<line x1="1304.60" y1="2005.63" x2="1746.00" y2="2005.63"/>
<line x1="1304.60" y1="2036.06" x2="1746.00" y2="2036.06"/>
<line x1="1304.60" y1="2066.50" x2="1746.00" y2="2066.50"/>
<line x1="1304.60" y1="2096.93" x2="1746.00" y2="2096.93"/>
<line x1="1304.60" y1="2127.37" x2="1746.00" y2="2127.37"/>
<line x1="1304.60" y1="2157.81" x2="1746.00" y2="2157.81"/>
<line x1="1304.60" y1="2188.24" x2="1746.00" y2="2188.24"/>
<line x1="1304.60" y1="2218.68" x2="1746.00" y2="2218.68"/>
<line x1="1304.60" y1="2249.11" x2="1746.00" y2="2249.11"/>
<line x1="1304.60" y1="2279.55" x2="1746.00" y2="2279.55"/>
<line x1="1304.60" y1="2309.99" x2="1746.00" y2="2309.99"/>
<line x1="1304.60" y1="2340.42" x2="1746.00" y2="2340.42"/>
<line x1="1304.60" y1="2370.86" x2="1746.00" y2="2370.86"/>
<line x1="1304.60" y1="2401.29" x2="1746.00" y2="2401.29"/>
<line x1="1304.60" y1="2431.73" x2="1746.00" y2="2431.73"/>
<line x1="1304.60" y1="2462.16" x2="1746.00" y2="2462.16"/>
<line x1="1359.77" y1="27.30" x2="1359.77" y2="2492.60"/>
<line x1="1414.95" y1="27.30" x2="1414.95" y2="2492.60"/>
<line x1="1470.12" y1="27.30" x2="1470.12" y2="2492.60"/>
<line x1="1525.30" y1="27.30" x2="1525.30" y2="2492.60"/>
<line x1="1580.47" y1="27.30" x2="1580.47" y2="2492.60"/>
<line x1="1635.65" y1="27.30" x2="1635.65" y2="2492.60"/>
<line x1="1690.83" y1="27.30" x2="1690.83" y2="2492.60"/>
</g>
<rect x="1304.60" y="27.30" width="441.40" height="2465.30" fill="none" stroke="#404040" stroke-width="2"/>
<g shape-rendering="crispEdges">
<rect x="1286.00" y="27.30" width="18.60" height="30.84" fill="#FFCC70"/>
<rect x="1286.00" y="57.74" width="18.60" height="30.84" fill="#FFCC70"/>
<rect x="1286.00" y="88.17" width="18.60" height="30.84" fill="#FFAAFF"/>
<rect x="1286.00" y="118.61" width="18.60" height="30.84" fill="#FFCC70"/>
<rect x="1286.00" y="149.04" width="18.60" height="30.84" fill="#FFCC70"/>
<rect x="1286.00" y="179.48" width="18.60" height="30.84" fill="#BFFF8A"/>
<rect x="1286.00" y="209.91" width="18.60" height="30.84" fill="#FFAAFF"/>
<rect x="1286.00" y="240.35" width="18.60" height="30.84" fill="#FFAAFF"/>
<rect x="1286.00" y="270.79" width="18.60" height="30.84" fill="#FFCC70"/>
<rect x="1286.00" y="301.22" width="18.60" height="30.84" fill="#FFCC70"/>
<rect x="1286.00" y="331.66" width="18.60" height="30.84" fill="#FFCC70"/>
<rect x="1286.00" y="362.09" width="18.60" height="30.84" fill="#FFCC70"/>
<rect x="1286.00" y="392.53" width="18.60" height="30.84" fill="#FFAAFF"/>
<rect x="1286.00" y="422.97" width="18.60" height="30.84" fill="#FFCC70"/>
<rect x="1286.00" y="453.40" width="18.60" height="30.84" fill="#FFCC70"/>
<rect x="1286.00" y="483.84" width="18.60" height="30.84" fill="#FFCC70"/>
<rect x="1286.00" y="514.27" width="18.60" height="30.84" fill="#FFCC70"/>
<rect x="1286.00" y="544.71" width="18.60" height="30.84" fill="#FFAAFF"/>
<rect x="1286.00" y="575.14" width="18.60" height="30.84" fill="#FFCC70"/>
<rect x="1286.00" y="605.58" width="18.60" height="30.84" fill="#FFAAFF"/>
<rect x="1286.00" y="636.02" width="18.60" height="30.84" fill="#FFCC70"/>
<rect x="1286.00" y="666.45" width="18.60" height="30.84" fill="#FFCC70"/>
<rect x="1286.00" y="696.89" width="18.60" height="30.84" fill="#FFCC70"/>
<rect x="1286.00" y="727.32" width="18.60" height="30.84" fill="#FFAAFF"/>
<rect x="1286.00" y="757.76" width="18.60" height="30.84" fill="#FFCC70"/>
<rect x="1286.00" y="788.20" width="18.60" height="30.84" fill="#FFCC70"/>
<rect x="1286.00" y="818.63" width="18.60" height="30.84" fill="#FFCC70"/>
<rect x="1286.00" y="849.07" width="18.60" height="30.84" fill="#FFAAFF"/>
<rect x="1286.00" y="879.50" width="18.60" height="30.84" fill="#FFCC70"/>
<rect x="1286.00" y="909.94" width="18.60" height="30.84" fill="#FFCC70"/>
<rect x="1286.00" y="940.37" width="18.60" height="30.84" fill="#FFCC70"/>
<rect x="1286.00" y="970.81" width="18.60" height="30.84" fill="#FFAAFF"/>
<rect x="1286.00" y="1001.25" width="18.60" height="30.84" fill="#FFCC70"/>
<rect x="1286.00" y="1031.68" width="18.60" height="30.84" fill="#FFAAFF"/>
<rect x="1286.00" y="1062.12" width="18.60" height="30.84" fill="#FFCC70"/>
<rect x="1286.00" y="1092.55" width="18.60" height="30.84" fill="#FFCC70"/>
<rect x="1286.00" y="1122.99" width="18.60" height="30.84" fill="#FFAAFF"/>
<rect x="1286.00" y="1153.42" width="18.60" height="30.84" fill="#FFCC70"/>
<rect x="1286.00" y="1183.86" width="18.60" height="30.84" fill="#BFFF8A"/>
<rect x="1286.00" y="1214.30" width="18.60" height="30.84" fill="#FFCC70"/>
<rect x="1286.00" y="1244.73" width="18.60" height="30.84" fill="#FFCC70"/>
<rect x="1286.00" y="1275.17" width="18.60" height="30.84" fill="#FFAAFF"/>
<rect x="1286.00" y="1305.60" width="18.60" height="30.84" fill="#FFAAFF"/>
<rect x="1286.00" y="1336.04" width="18.60" height="30.84" fill="#FFCC70"/>
<rect x="1286.00" y="1366.48" width="18.60" height="30.84" fill="#FFCC70"/>
<rect x="1286.00" y="1396.91" width="18.60" height="30.84" fill="#FFCC70"/>
<rect x="1286.00" y="1427.35" width="18.60" height="30.84" fill="#FFCC70"/>
<rect x="1286.00" y="1457.78" width="18.60" height="30.84" fill="#FFCC70"/>
<rect x="1286.00" y="1488.22" width="18.60" height="30.84" fill="#FFAAFF"/>
<rect x="1286.00" y="1518.65" width="18.60" height="30.84" fill="#FFCC70"/>
<rect x="1286.00" y="1549.09" width="18.60" height="30.84" fill="#FFCC70"/>
<rect x="1286.00" y="1579.53" width="18.60" height="30.84" fill="#FFCC70"/>
<rect x="1286.00" y="1609.96" width="18.60" height="30.84" fill="#FFAAFF"/>
<rect x="1286.00" y="1640.40" width="18.60" height="30.84" fill="#FFCC70"/>
<rect x="1286.00" y="1670.83" width="18.60" height="30.84" fill="#FFCC70"/>
<rect x="1286.00" y="1701.27" width="18.60" height="30.84" fill="#FFCC70"/>
<rect x="1286.00" y="1731.70" width="18.60" height="30.84" fill="#FFCC70"/>
<rect x="1286.00" y="1762.14" width="18.60" height="30.84" fill="#FFCC70"/>
<rect x="1286.00" y="1792.58" width="18.60" height="30.84" fill="#FFAAFF"/>
<rect x="1286.00" y="1823.01" width="18.60" height="30.84" fill="#FFCC70"/>
<rect x="1286.00" y="1853.45" width="18.60" height="30.84" fill="#FFAAFF"/>
<rect x="1286.00" y="1883.88" width="18.60" height="30.84" fill="#FFAAFF"/>
<rect x="1286.00" y="1914.32" width="18.60" height="30.84" fill="#FFAAFF"/>
<rect x="1286.00" y="1944.76" width="18.60" height="30.84" fill="#FFCC70"/>
<rect x="1286.00" y="1975.19" width="18.60" height="30.84" fill="#FFCC70"/>
<rect x="1286.00" y="2005.63" width="18.60" height="30.84" fill="#FFCC70"/>
<rect x="1286.00" y="2036.06" width="18.60" height="30.84" fill="#FFAAFF"/>
<rect x="1286.00" y="2066.50" width="18.60" height="30.84" fill="#FFCC70"/>
<rect x="1286.00" y="2096.93" width="18.60" height="30.84" fill="#BFFF8A"/>
<rect x="1286.00" y="2127.37" width="18.60" height="30.84" fill="#FFCC70"/>
<rect x="1286.00" y="2157.81" width="18.60" height="30.84" fill="#FFAAFF"/>
<rect x="1286.00" y="2188.24" width="18.60" height="30.84" fill="#FFCC70"/>
<rect x="1286.00" y="2218.68" width="18.60" height="30.84" fill="#FFCC70"/>
<rect x="1286.00" y="2249.11" width="18.60" height="30.84" fill="#FFCC70"/>
<rect x="1286.00" y="2279.55" width="18.60" height="30.84" fill="#FFCC70"/>
<rect x="1286.00" y="2309.99" width="18.60" height="30.84" fill="#FFAAFF"/>
<rect x="1286.00" y="2340.42" width="18.60" height="30.84" fill="#FFCC70"/>
<rect x="1286.00" y="2370.86" width="18.60" height="30.84" fill="#FFCC70"/>
<rect x="1286.00" y="2401.29" width="18.60" height="30.84" fill="#FFCC70"/>
<rect x="1286.00" y="2431.73" width="18.60" height="30.84" fill="#FFCC70"/>
<rect x="1286.00" y="2462.16" width="18.60" height="30.84" fill="#FFCC70"/>
</g>
<path d="M1221.92 42.52H1286.00M1221.92 72.95H1286.00M1221.92 42.52V72.95M1211.24 57.74H1221.92M1221.92 103.39H1286.00M1232.60 133.83H1286.00M1232.60 164.26H1286.00M1232.60 133.83V164.26M1221.92 149.04H1232.60M1221.92 103.39V149.04M1211.24 126.22H1221.92M1211.24 57.74V126.22M1200.56 91.98H1211.24M1211.24 194.70H1286.00M1232.60 225.13H1286.00M1243.28 255.57H1286.00M1253.96 286.00H1286.00M1253.96 316.44H1286.00M1253.96 286.00V316.44M1243.28 301.22H1253.96M1243.28 255.57V301.22M1232.60 278.40H1243.28M1232.60 225.13V278.40M1221.92 251.76H1232.60M1232.60 346.88H1286.00M1232.60 377.31H1286.00M1232.60 346.88V377.31M1221.92 362.09H1232.60M1221.92 251.76V362.09M1211.24 306.93H1221.92M1211.24 194.70V306.93M1200.56 250.81H1211.24M1200.56 91.98V250.81M1189.88 171.39H1200.56M1243.28 407.75H1286.00M1243.28 438.18H1286.00M1243.28 407.75V438.18M1232.60 422.97H1243.28M1243.28 468.62H1286.00M1243.28 499.05H1286.00M1243.28 468.62V499.05M1232.60 483.84H1243.28M1232.60 422.97V483.84M1221.92 453.40H1232.60M1243.28 529.49H1286.00M1243.28 559.93H1286.00M1243.28 529.49V559.93M1232.60 544.71H1243.28M1243.28 590.36H1286.00M1253.96 620.80H1286.00M1264.64 651.23H1286.00M1275.32 681.67H1286.00M1275.32 712.11H1286.00M1275.32 681.67V712.11M1264.64 696.89H1275.32M1264.64 651.23V696.89M1253.96 674.06H1264.64M1253.96 620.80V674.06M1243.28 647.43H1253.96M1243.28 590.36V647.43M1232.60 618.90H1243.28M1232.60 544.71V618.90M1221.92 581.80H1232.60M1221.92 453.40V581.80M1211.24 517.60H1221.92M1221.92 742.54H1286.00M1232.60 772.98H1286.00M1243.28 803.41H1286.00M1253.96 833.85H1286.00M1253.96 864.28H1286.00M1253.96 833.85V864.28M1243.28 849.07H1253.96M1243.28 803.41V849.07M1232.60 826.24H1243.28M1232.60 772.98V826.24M1221.92 799.61H1232.60M1221.92 742.54V799.61M1211.24 771.07H1221.92M1211.24 517.60V771.07M1200.56 644.34H1211.24M1221.92 894.72H1286.00M1221.92 925.16H1286.00M1221.92 894.72V925.16M1211.24 909.94H1221.92M1232.60 955.59H1286.00M1232.60 986.03H1286.00M1232.60 955.59V986.03M1221.92 970.81H1232.60M1243.28 1016.46H1286.00M1243.28 1046.90H1286.00M1243.28 1016.46V1046.90M1232.60 1031.68H1243.28M1243.28 1077.34H1286.00M1243.28 1107.77H1286.00M1243.28 1077.34V1107.77M1232.60 1092.55H1243.28M1232.60 1031.68V1092.55M1221.92 1062.12H1232.60M1221.92 970.81V1062.12M1211.24 1016.46H1221.92M1211.24 909.94V1016.46M1200.56 963.20H1211.24M1200.56 644.34V963.20M1189.88 803.77H1200.56M1189.88 171.39V803.77M1179.20 487.58H1189.88M1221.92 1138.21H1286.00M1221.92 1168.64H1286.00M1221.92 1138.21V1168.64M1211.24 1153.42H1221.92M1221.92 1199.08H1286.00M1243.28 1229.51H1286.00M1243.28 1259.95H1286.00M1243.28 1229.51V1259.95M1232.60 1244.73H1243.28M1243.28 1290.39H1286.00M1243.28 1320.82H1286.00M1243.28 1290.39V1320.82M1232.60 1305.60H1243.28M1232.60 1244.73V1305.60M1221.92 1275.17H1232.60M1221.92 1199.08V1275.17M1211.24 1237.12H1221.92M1211.24 1153.42V1237.12M1200.56 1195.27H1211.24M1221.92 1351.26H1286.00M1232.60 1381.69H1286.00M1232.60 1412.13H1286.00M1232.60 1381.69V1412.13M1221.92 1396.91H1232.60M1221.92 1351.26V1396.91M1211.24 1374.08H1221.92M1232.60 1442.56H1286.00M1243.28 1473.00H1286.00M1253.96 1503.44H1286.00M1253.96 1533.87H1286.00M1253.96 1503.44V1533.87M1243.28 1518.65H1253.96M1243.28 1473.00V1518.65M1232.60 1495.83H1243.28M1232.60 1442.56V1495.83M1221.92 1469.20H1232.60M1232.60 1564.31H1286.00M1243.28 1594.74H1286.00M1243.28 1625.18H1286.00M1243.28 1594.74V1625.18M1232.60 1609.96H1243.28M1232.60 1564.31V1609.96M1221.92 1587.13H1232.60M1221.92 1469.20V1587.13M1211.24 1528.17H1221.92M1211.24 1374.08V1528.17M1200.56 1451.12H1211.24M1200.56 1195.27V1451.12M1189.88 1323.20H1200.56M1221.92 1655.62H1286.00M1232.60 1686.05H1286.00M1243.28 1716.49H1286.00M1243.28 1746.92H1286.00M1243.28 1716.49V1746.92M1232.60 1731.70H1243.28M1232.60 1686.05V1731.70M1221.92 1708.88H1232.60M1221.92 1655.62V1708.88M1211.24 1682.25H1221.92M1232.60 1777.36H1286.00M1243.28 1807.79H1286.00M1253.96 1838.23H1286.00M1264.64 1868.67H1286.00M1264.64 1899.10H1286.00M1264.64 1868.67V1899.10M1253.96 1883.88H1264.64M1253.96 1838.23V1883.88M1243.28 1861.06H1253.96M1243.28 1807.79V1861.06M1232.60 1834.43H1243.28M1232.60 1777.36V1834.43M1221.92 1805.89H1232.60M1232.60 1929.54H1286.00M1243.28 1959.97H1286.00M1243.28 1990.41H1286.00M1243.28 1959.97V1990.41M1232.60 1975.19H1243.28M1232.60 1929.54V1975.19M1221.92 1952.36H1232.60M1221.92 1805.89V1952.36M1211.24 1879.13H1221.92M1211.24 1682.25V1879.13M1200.56 1780.69H1211.24M1232.60 2020.85H1286.00M1243.28 2051.28H1286.00M1243.28 2081.72H1286.00M1243.28 2051.28V2081.72M1232.60 2066.50H1243.28M1232.60 2020.85V2066.50M1221.92 2043.67H1232.60M1232.60 2112.15H1286.00M1243.28 2142.59H1286.00M1243.28 2173.02H1286.00M1243.28 2142.59V2173.02M1232.60 2157.81H1243.28M1232.60 2112.15V2157.81M1221.92 2134.98H1232.60M1221.92 2043.67V2134.98M1211.24 2089.33H1221.92M1243.28 2203.46H1286.00M1243.28 2233.90H1286.00M1243.28 2203.46V2233.90M1232.60 2218.68H1243.28M1243.28 2264.33H1286.00M1243.28 2294.77H1286.00M1243.28 2264.33V2294.77M1232.60 2279.55H1243.28M1232.60 2218.68V2279.55M1221.92 2249.11H1232.60M1243.28 2325.20H1286.00M1253.96 2355.64H1286.00M1253.96 2386.07H1286.00M1253.96 2355.64V2386.07M1243.28 2370.86H1253.96M1243.28 2325.20V2370.86M1232.60 2348.03H1243.28M1243.28 2416.51H1286.00M1253.96 2446.95H1286.00M1253.96 2477.38H1286.00M1253.96 2446.95V2477.38M1243.28 2462.16H1253.96M1243.28 2416.51V2462.16M1232.60 2439.34H1243.28M1232.60 2348.03V2439.34M1221.92 2393.68H1232.60M1221.92 2249.11V2393.68M1211.24 2321.40H1221.92M1211.24 2089.33V2321.40M1200.56 2205.36H1211.24M1200.56 1780.69V2205.36M1189.88 1993.02H1200.56M1189.88 1323.20V1993.02M1179.20 1658.11H1189.88M1179.20 487.58V1658.11" stroke="#9C9C9C" stroke-width="2.2" fill="none" stroke-linecap="square"/>
<g font-family="Liberation Serif, serif" font-weight="bold" font-style="italic" font-size="27.5" fill="#111">
<text transform="translate(1753.60 52.92) scale(1.005 1)">SlPLA1-20</text>
<text transform="translate(1753.60 83.35) scale(1.005 1)">SlPLA1-21</text>
<text transform="translate(1753.60 115.99) scale(1.005 1)">SlpPLA5</text>
<text transform="translate(1753.60 144.23) scale(1.005 1)">SlPLA1-8</text>
<text transform="translate(1753.60 174.66) scale(1.005 1)">SlPLA1-45</text>
<text transform="translate(1753.60 205.10) scale(1.005 1)">SlPLA2-3</text>
<text transform="translate(1753.60 237.73) scale(1.005 1)">SlpPLA2</text>
<text transform="translate(1753.60 268.17) scale(1.005 1)">SlpPLA14</text>
<text transform="translate(1753.60 296.40) scale(1.005 1)">SlPLA1-12</text>
<text transform="translate(1753.60 326.84) scale(1.005 1)">SlPLA1-32</text>
<text transform="translate(1753.60 357.28) scale(1.005 1)">SlPLA1-15</text>
<text transform="translate(1753.60 387.71) scale(1.005 1)">SlPLA1-41</text>
<text transform="translate(1753.60 420.35) scale(1.005 1)">SlpPLA16</text>
<text transform="translate(1753.60 448.58) scale(1.005 1)">SlPLA1-48</text>
<text transform="translate(1753.60 479.02) scale(1.005 1)">SlPLA1-3</text>
<text transform="translate(1753.60 509.45) scale(1.005 1)">SlPLA1-30</text>
<text transform="translate(1753.60 539.89) scale(1.005 1)">SlPLA1-29</text>
<text transform="translate(1753.60 572.53) scale(1.005 1)">SlpPLA12</text>
<text transform="translate(1753.60 600.76) scale(1.005 1)">SlPLA1-55</text>
<text transform="translate(1753.60 633.40) scale(1.005 1)">SlpPLA6</text>
<text transform="translate(1753.60 661.63) scale(1.005 1)">SlPLA1-24</text>
<text transform="translate(1753.60 692.07) scale(1.005 1)">SlPLA1-11</text>
<text transform="translate(1753.60 722.51) scale(1.005 1)">SlPLA1-26</text>
<text transform="translate(1753.60 755.14) scale(1.005 1)">SlpPLA7</text>
<text transform="translate(1753.60 783.38) scale(1.005 1)">SlPLA1-34</text>
<text transform="translate(1753.60 813.81) scale(1.005 1)">SlPLA1-13</text>
<text transform="translate(1753.60 844.25) scale(1.005 1)">SlPLA1-10</text>
<text transform="translate(1753.60 876.88) scale(1.005 1)">SlpPLA17</text>
<text transform="translate(1753.60 905.12) scale(1.005 1)">SlPLA1-7</text>
<text transform="translate(1753.60 935.56) scale(1.005 1)">SlPLA1-35</text>
<text transform="translate(1753.60 965.99) scale(1.005 1)">SlPLA1-37</text>
<text transform="translate(1753.60 998.63) scale(1.005 1)">SlpPLA18</text>
<text transform="translate(1753.60 1026.86) scale(1.005 1)">SlPLA1-23</text>
<text transform="translate(1753.60 1059.50) scale(1.005 1)">SlpPLA19</text>
<text transform="translate(1753.60 1087.74) scale(1.005 1)">SlPLA1-40</text>
<text transform="translate(1753.60 1118.17) scale(1.005 1)">SlPLA1-42</text>
<text transform="translate(1753.60 1150.81) scale(1.005 1)">SlpPLA8</text>
<text transform="translate(1753.60 1179.04) scale(1.005 1)">SlPLA1-54</text>
<text transform="translate(1753.60 1209.48) scale(1.005 1)">SlPLA2-1</text>
<text transform="translate(1753.60 1239.91) scale(1.005 1)">SlPLA1-46</text>
<text transform="translate(1753.60 1270.35) scale(1.005 1)">SlPLA1-51</text>
<text transform="translate(1753.60 1302.99) scale(1.005 1)">SlpPLA1</text>
<text transform="translate(1753.60 1333.42) scale(1.005 1)">SlpPLA21</text>
<text transform="translate(1753.60 1361.66) scale(1.005 1)">SlPLA1-5</text>
<text transform="translate(1753.60 1392.09) scale(1.005 1)">SlPLA1-4</text>
<text transform="translate(1753.60 1422.53) scale(1.005 1)">SlPLA1-56</text>
<text transform="translate(1753.60 1452.96) scale(1.005 1)">SlPLA1-47</text>
<text transform="translate(1753.60 1483.40) scale(1.005 1)">SlPLA1-1</text>
<text transform="translate(1753.60 1516.04) scale(1.005 1)">SlpPLA15</text>
<text transform="translate(1753.60 1544.27) scale(1.005 1)">SlPLA1-50</text>
<text transform="translate(1753.60 1574.71) scale(1.005 1)">SlPLA1-28</text>
<text transform="translate(1753.60 1605.14) scale(1.005 1)">SlPLA1-33</text>
<text transform="translate(1753.60 1637.78) scale(1.005 1)">SlpPLA20</text>
<text transform="translate(1753.60 1666.02) scale(1.005 1)">SlPLA1-22</text>
<text transform="translate(1753.60 1696.45) scale(1.005 1)">SlPLA1-38</text>
<text transform="translate(1753.60 1726.89) scale(1.005 1)">SlPLA1-6</text>
<text transform="translate(1753.60 1757.32) scale(1.005 1)">SlPLA1-14</text>
<text transform="translate(1753.60 1787.76) scale(1.005 1)">SlPLA1-53</text>
<text transform="translate(1753.60 1820.39) scale(1.005 1)">SlpPLA9</text>
<text transform="translate(1753.60 1848.63) scale(1.005 1)">SlPLA1-17</text>
<text transform="translate(1753.60 1881.27) scale(1.005 1)">SlpPLA10</text>
<text transform="translate(1753.60 1911.70) scale(1.005 1)">SlpPLA11</text>
<text transform="translate(1753.60 1942.14) scale(1.005 1)">SlpPLA13</text>
<text transform="translate(1753.60 1970.37) scale(1.005 1)">SlPLA1-16</text>
<text transform="translate(1753.60 2000.81) scale(1.005 1)">SlPLA1-52</text>
<text transform="translate(1753.60 2031.25) scale(1.005 1)">SlPLA1-49</text>
<text transform="translate(1753.60 2063.88) scale(1.005 1)">SlpPLA3</text>
<text transform="translate(1753.60 2092.12) scale(1.005 1)">SlPLA1-18</text>
<text transform="translate(1753.60 2122.55) scale(1.005 1)">SlPLA2-2</text>
<text transform="translate(1753.60 2152.99) scale(1.005 1)">SlPLA1-19</text>
<text transform="translate(1753.60 2185.62) scale(1.005 1)">SlpPLA22</text>
<text transform="translate(1753.60 2213.86) scale(1.005 1)">SlPLA1-25</text>
<text transform="translate(1753.60 2244.30) scale(1.005 1)">SlPLA1-27</text>
<text transform="translate(1753.60 2274.73) scale(1.005 1)">SlPLA1-9</text>
<text transform="translate(1753.60 2305.17) scale(1.005 1)">SlPLA1-44</text>
<text transform="translate(1753.60 2337.80) scale(1.005 1)">SlpPLA4</text>
<text transform="translate(1753.60 2366.04) scale(1.005 1)">SlPLA1-36</text>
<text transform="translate(1753.60 2396.47) scale(1.005 1)">SlPLA1-43</text>
<text transform="translate(1753.60 2426.91) scale(1.005 1)">SlPLA1-2</text>
<text transform="translate(1753.60 2457.35) scale(1.005 1)">SlPLA1-31</text>
<text transform="translate(1753.60 2487.78) scale(1.005 1)">SlPLA1-39</text>
</g>
<g font-family="Liberation Serif, serif" font-weight="bold" font-size="28.7" fill="#111" text-anchor="end">
<text transform="translate(1340.89 2527.70) rotate(-45)">root</text>
<text transform="translate(1393.26 2531.20) rotate(-45)">stem</text>
<text transform="translate(1447.14 2531.20) rotate(-45)">leave</text>
<text transform="translate(1506.41 2527.70) rotate(-45)">bud</text>
<text transform="translate(1560.89 2527.70) rotate(-45)">flower</text>
<text transform="translate(1627.16 2522.30) rotate(-45)">immature green fruit</text>
<text transform="translate(1678.84 2525.70) rotate(-45)">mature green fruit</text>
<text transform="translate(1731.91 2522.90) rotate(-45)">breaker fruit</text>
</g>
<rect x="916.80" y="46.00" width="37.20" height="261.60" fill="url(#ga)" stroke="#2a2a2a" stroke-width="2.2"/>
<g font-family="Liberation Serif, serif" font-size="24.5" fill="#222">
<line x1="954.00" y1="46.00" x2="961.00" y2="46.00" stroke="#2a2a2a" stroke-width="2"/>
<text x="964.00" y="54.58">2.00</text>
<line x1="954.00" y1="111.40" x2="961.00" y2="111.40" stroke="#2a2a2a" stroke-width="2"/>
<text x="964.00" y="119.98">1.00</text>
<line x1="954.00" y1="176.80" x2="961.00" y2="176.80" stroke="#2a2a2a" stroke-width="2"/>
<text x="964.00" y="185.38">0.00</text>
<line x1="954.00" y1="242.20" x2="961.00" y2="242.20" stroke="#2a2a2a" stroke-width="2"/>
<text x="964.00" y="250.78"><tspan fill="#9a9a9a">−</tspan>1.00</text>
<line x1="954.00" y1="307.60" x2="961.00" y2="307.60" stroke="#2a2a2a" stroke-width="2"/>
<text x="964.00" y="316.18"><tspan fill="#9a9a9a">−</tspan>2.00</text>
</g>
<rect x="2014.40" y="67.10" width="37.60" height="292.30" fill="url(#gb)" stroke="#2a2a2a" stroke-width="2.2"/>
<g font-family="Liberation Serif, serif" font-size="24.0" fill="#222">
<line x1="2052.00" y1="67.10" x2="2059.00" y2="67.10" stroke="#2a2a2a" stroke-width="2"/>
<text x="2061.50" y="75.50">3.00</text>
<line x1="2052.00" y1="115.82" x2="2059.00" y2="115.82" stroke="#2a2a2a" stroke-width="2"/>
<text x="2061.50" y="124.22">2.00</text>
<line x1="2052.00" y1="164.53" x2="2059.00" y2="164.53" stroke="#2a2a2a" stroke-width="2"/>
<text x="2061.50" y="172.93">1.00</text>
<line x1="2052.00" y1="213.25" x2="2059.00" y2="213.25" stroke="#2a2a2a" stroke-width="2"/>
<text x="2061.50" y="221.65">0.00</text>
<line x1="2052.00" y1="261.97" x2="2059.00" y2="261.97" stroke="#2a2a2a" stroke-width="2"/>
<text x="2061.50" y="270.37"><tspan fill="#9a9a9a">−</tspan>1.00</text>
<line x1="2052.00" y1="310.68" x2="2059.00" y2="310.68" stroke="#2a2a2a" stroke-width="2"/>
<text x="2061.50" y="319.08"><tspan fill="#9a9a9a">−</tspan>2.00</text>
<line x1="2052.00" y1="359.40" x2="2059.00" y2="359.40" stroke="#2a2a2a" stroke-width="2"/>
<text x="2061.50" y="367.80"><tspan fill="#9a9a9a">−</tspan>3.00</text>
</g>
<text x="889.50" y="438.80" font-family="Liberation Serif, serif" font-weight="bold" font-size="38.5" fill="#000">Group</text>
<rect x="889.00" y="480.90" width="101.20" height="29.50" fill="#80FF80"/>
<text transform="translate(1004.80 500.30) scale(0.970 1)" font-family="Liberation Serif, serif" font-weight="bold" font-size="31.5" fill="#333">PLA2</text>
<rect x="889.00" y="510.10" width="101.20" height="28.50" fill="#F5AAFF"/>
<text transform="translate(1004.80 528.40) scale(0.970 1)" font-family="Liberation Serif, serif" font-weight="bold" font-size="31.5" fill="#333">pPLA</text>
<rect x="889.00" y="538.30" width="101.20" height="29.10" fill="#FFCC66"/>
<text transform="translate(1004.80 564.60) scale(0.970 1)" font-family="Liberation Serif, serif" font-weight="bold" font-size="31.5" fill="#333">PLA1</text>
<text x="2008.30" y="448.60" font-family="Liberation Serif, serif" font-weight="bold" font-size="39.0" fill="#000">Group</text>
<rect x="2008.30" y="477.90" width="116.50" height="34.70" fill="#BFFF8A"/>
<text transform="translate(2144.30 501.50) scale(1.035 1)" font-family="Liberation Serif, serif" font-weight="bold" font-size="35.4" fill="#333">PLA2</text>
<rect x="2008.30" y="512.30" width="116.50" height="34.90" fill="#FFAAFF"/>
<text transform="translate(2144.30 539.40) scale(1.035 1)" font-family="Liberation Serif, serif" font-weight="bold" font-size="35.4" fill="#333">pPLA</text>
<rect x="2008.30" y="546.90" width="116.50" height="35.00" fill="#FFCC70"/>
<text transform="translate(2144.30 576.60) scale(1.035 1)" font-family="Liberation Serif, serif" font-weight="bold" font-size="35.4" fill="#333">PLA1</text>
<text transform="translate(25.5 100.5) scale(0.95 1)" font-family="Liberation Serif, serif" font-weight="bold" font-size="84" fill="#000">a</text>
<text x="1097" y="126.5" font-family="Liberation Serif, serif" font-weight="bold" font-size="82" fill="#000">b</text>
</svg>
</body></html>
